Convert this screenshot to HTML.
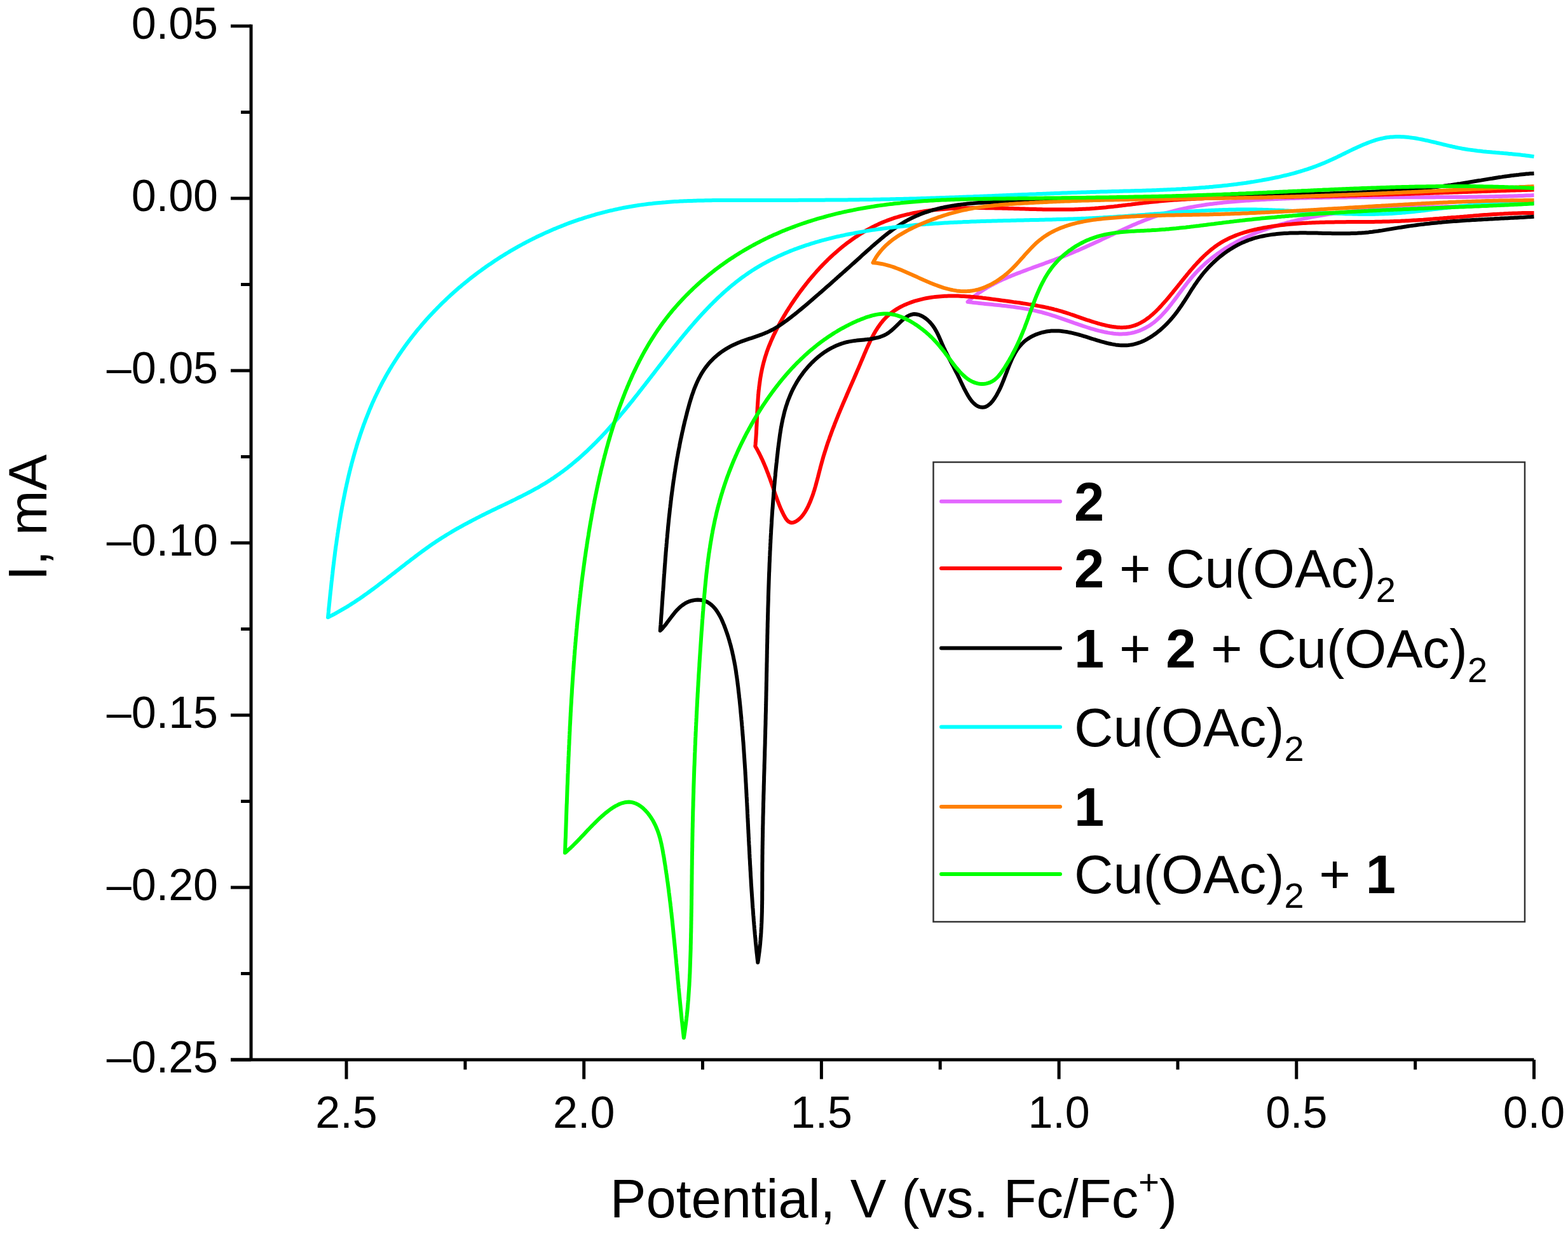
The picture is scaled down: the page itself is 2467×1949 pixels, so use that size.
<!DOCTYPE html>
<html><head><meta charset="utf-8"><style>html,body{margin:0;padding:0;background:#fff;}svg{display:block;}</style></head>
<body><svg width="2467" height="1949" viewBox="0 0 2467 1949">
<rect width="100%" height="100%" fill="#fff"/>
<path d="M2413.5,307.1L2410.5,307.2 2407.5,307.4 2404.5,307.5 2401.5,307.6 2398.5,307.7 2395.5,307.9 2392.5,308.0 2389.5,308.1 2386.4,308.2 2383.4,308.3 2380.4,308.4 2377.4,308.5 2374.4,308.6 2371.4,308.7 2368.4,308.8 2365.4,308.8 2362.4,308.9 2359.4,309.0 2356.4,309.1 2353.4,309.1 2350.3,309.2 2347.3,309.3 2344.3,309.3 2341.3,309.4 2338.3,309.4 2335.3,309.5 2332.3,309.5 2329.3,309.6 2326.3,309.6 2323.2,309.7 2320.2,309.7 2317.2,309.8 2314.2,309.8 2311.2,309.8 2308.2,309.9 2305.2,309.9 2302.2,309.9 2299.1,309.9 2296.1,310.0 2293.1,310.0 2290.1,310.0 2287.1,310.0 2284.1,310.1 2281.1,310.1 2278.1,310.1 2275.0,310.1 2272.0,310.1 2269.0,310.1 2266.0,310.1 2263.0,310.1 2260.0,310.1 2257.0,310.2 2253.9,310.2 2250.9,310.2 2247.9,310.2 2244.9,310.2 2241.9,310.2 2238.9,310.2 2235.8,310.2 2232.8,310.2 2229.8,310.2 2226.8,310.2 2223.8,310.2 2220.8,310.2 2217.7,310.2 2214.7,310.2 2211.7,310.2 2208.7,310.2 2205.7,310.2 2202.7,310.2 2199.6,310.2 2196.6,310.2 2193.6,310.2 2190.6,310.2 2187.6,310.2 2184.6,310.2 2181.5,310.2 2178.5,310.2 2175.5,310.2 2172.5,310.2 2169.5,310.2 2166.5,310.2 2163.4,310.2 2160.4,310.2 2157.4,310.2 2154.4,310.2 2151.4,310.2 2148.4,310.2 2145.3,310.2 2142.3,310.2 2139.3,310.2 2136.3,310.3 2133.3,310.3 2130.2,310.3 2127.2,310.3 2124.2,310.3 2121.2,310.3 2118.2,310.4 2115.2,310.4 2112.1,310.4 2109.1,310.5 2106.1,310.5 2103.1,310.5 2100.1,310.6 2097.1,310.6 2094.0,310.6 2091.0,310.7 2088.0,310.7 2085.0,310.8 2082.0,310.8 2079.0,310.9 2075.9,310.9 2072.9,311.0 2069.9,311.1 2066.9,311.1 2063.9,311.2 2060.9,311.3 2057.8,311.3 2054.8,311.4 2051.8,311.5 2048.8,311.6 2045.8,311.6 2042.8,311.7 2039.7,311.8 2036.7,311.9 2033.7,312.0 2030.7,312.1 2027.7,312.2 2024.7,312.3 2021.7,312.4 2018.6,312.6 2015.6,312.7 2012.6,312.8 2009.6,312.9 2006.6,313.1 2003.6,313.2 2000.6,313.3 1997.5,313.5 1994.5,313.6 1991.5,313.8 1988.5,314.0 1985.5,314.1 1982.5,314.3 1979.5,314.5 1976.4,314.6 1973.4,314.8 1970.4,315.0 1967.4,315.2 1964.4,315.4 1961.4,315.6 1958.4,315.8 1955.4,316.0 1952.4,316.2 1949.3,316.5 1946.3,316.7 1943.3,316.9 1940.3,317.2 1937.3,317.5 1934.3,317.7 1931.3,318.0 1928.3,318.3 1925.3,318.6 1922.3,318.9 1919.4,319.2 1916.4,319.6 1913.4,319.9 1910.4,320.3 1907.4,320.7 1904.4,321.0 1901.5,321.4 1898.5,321.8 1895.5,322.3 1892.6,322.7 1889.6,323.2 1886.7,323.6 1883.7,324.1 1880.8,324.6 1877.8,325.2 1874.9,325.7 1871.9,326.2 1869.0,326.8 1866.1,327.4 1863.2,328.0 1860.2,328.6 1857.3,329.3 1854.4,329.9 1851.5,330.6 1848.6,331.3 1845.7,332.1 1842.9,332.8 1840.0,333.6 1837.1,334.4 1834.2,335.2 1831.4,336.0 1828.5,336.9 1825.7,337.8 1822.8,338.7 1820.0,339.6 1817.2,340.5 1814.4,341.5 1811.5,342.5 1808.7,343.6 1805.9,344.6 1803.1,345.7 1800.3,346.8 1797.6,347.9 1794.8,349.0 1792.0,350.1 1789.2,351.3 1786.5,352.5 1783.7,353.6 1780.9,354.8 1778.2,356.1 1775.4,357.3 1772.7,358.5 1769.9,359.8 1767.2,361.0 1764.5,362.3 1761.7,363.5 1759.0,364.8 1756.2,366.1 1753.5,367.4 1750.8,368.7 1748.0,369.9 1745.3,371.2 1742.6,372.5 1739.8,373.8 1737.1,375.1 1734.3,376.4 1731.6,377.7 1728.9,379.0 1726.1,380.3 1723.4,381.5 1720.6,382.8 1717.9,384.1 1715.1,385.3 1712.4,386.6 1709.6,387.8 1706.9,389.1 1704.1,390.3 1701.3,391.5 1698.5,392.7 1695.8,393.9 1693.0,395.1 1690.2,396.3 1687.4,397.5 1684.6,398.6 1681.8,399.8 1679.0,400.9 1676.2,402.0 1673.4,403.1 1670.6,404.2 1667.8,405.3 1664.9,406.4 1662.1,407.4 1659.3,408.5 1656.5,409.5 1653.6,410.6 1650.8,411.6 1648.0,412.7 1645.1,413.7 1642.3,414.8 1639.5,415.8 1636.6,416.8 1633.8,417.9 1631.0,418.9 1628.1,419.9 1625.3,420.9 1622.5,422.0 1619.7,423.0 1616.8,424.0 1614.0,425.1 1611.2,426.1 1608.4,427.2 1605.6,428.3 1602.8,429.3 1600.0,430.4 1597.2,431.5 1594.4,432.6 1591.6,433.7 1588.9,434.9 1586.1,436.0 1583.4,437.2 1580.7,438.4 1577.9,439.6 1575.2,440.9 1572.5,442.1 1569.9,443.4 1567.2,444.8 1564.5,446.1 1561.9,447.5 1559.3,448.9 1556.7,450.4 1554.1,451.8 1551.5,453.4 1549.0,454.9 1546.5,456.5 1544.0,458.2 1541.5,459.8 1539.0,461.5 1536.6,463.3 1534.2,465.1 1531.8,467.0 1529.4,468.9 1527.1,470.8 1524.8,472.8 1522.5,474.9L1525.5,475.3 1528.5,475.6 1531.5,476.0 1534.5,476.3 1537.5,476.6 1540.5,476.9 1543.5,477.2 1546.5,477.6 1549.5,477.9 1552.5,478.2 1555.5,478.5 1558.5,478.8 1561.5,479.1 1564.5,479.4 1567.5,479.7 1570.5,480.0 1573.5,480.3 1576.5,480.7 1579.6,481.0 1582.6,481.3 1585.6,481.7 1588.5,482.1 1591.5,482.4 1594.5,482.8 1597.5,483.3 1600.5,483.7 1603.5,484.1 1606.5,484.6 1609.4,485.1 1612.4,485.6 1615.3,486.1 1618.3,486.6 1621.3,487.2 1624.2,487.8 1627.1,488.4 1630.1,489.1 1633.0,489.8 1635.9,490.5 1638.8,491.2 1641.7,492.0 1644.6,492.8 1647.5,493.6 1650.4,494.5 1653.3,495.4 1656.1,496.3 1659.0,497.2 1661.9,498.2 1664.7,499.1 1667.6,500.1 1670.4,501.1 1673.3,502.1 1676.2,503.1 1679.0,504.1 1681.9,505.1 1684.7,506.1 1687.6,507.1 1690.5,508.2 1693.3,509.2 1696.2,510.2 1699.1,511.1 1702.0,512.1 1704.9,513.1 1707.8,514.0 1710.7,515.0 1713.6,515.9 1716.5,516.8 1719.4,517.6 1722.4,518.5 1725.3,519.3 1728.3,520.1 1731.3,520.8 1734.3,521.5 1737.3,522.2 1740.3,522.8 1743.3,523.4 1746.3,523.9 1749.3,524.3 1752.3,524.7 1755.3,525.0 1758.3,525.2 1761.3,525.4 1764.2,525.4 1767.2,525.3 1770.1,525.2 1773.1,524.9 1776.0,524.6 1778.9,524.1 1781.7,523.5 1784.5,522.8 1787.4,522.0 1790.1,521.1 1792.9,520.1 1795.6,519.0 1798.2,517.8 1800.8,516.5 1803.4,515.1 1805.9,513.7 1808.4,512.2 1810.9,510.5 1813.2,508.8 1815.6,507.1 1817.9,505.2 1820.1,503.3 1822.3,501.3 1824.5,499.3 1826.6,497.2 1828.7,495.0 1830.7,492.8 1832.8,490.6 1834.8,488.3 1836.7,486.0 1838.7,483.6 1840.6,481.2 1842.5,478.8 1844.4,476.3 1846.3,473.9 1848.2,471.4 1850.1,468.9 1852.0,466.4 1853.8,463.8 1855.7,461.3 1857.6,458.8 1859.4,456.3 1861.3,453.8 1863.2,451.2 1865.1,448.8 1867.0,446.3 1868.9,443.8 1870.9,441.4 1872.8,439.0 1874.8,436.6 1876.8,434.3 1878.9,432.0 1880.9,429.7 1883.0,427.5 1885.1,425.3 1887.3,423.1 1889.4,421.0 1891.6,418.9 1893.8,416.9 1896.1,414.8 1898.3,412.8 1900.6,410.9 1902.9,409.0 1905.2,407.1 1907.6,405.2 1909.9,403.4 1912.3,401.6 1914.7,399.8 1917.1,398.1 1919.6,396.4 1922.0,394.7 1924.5,393.0 1927.0,391.4 1929.5,389.8 1932.1,388.3 1934.6,386.7 1937.2,385.2 1939.8,383.8 1942.4,382.3 1945.0,380.9 1947.6,379.5 1950.3,378.1 1953.0,376.8 1955.6,375.5 1958.3,374.2 1961.0,372.9 1963.7,371.7 1966.5,370.5 1969.2,369.3 1972.0,368.1 1974.7,366.9 1977.5,365.8 1980.3,364.7 1983.1,363.7 1985.9,362.6 1988.8,361.6 1991.6,360.6 1994.4,359.6 1997.3,358.6 2000.1,357.7 2003.0,356.7 2005.9,355.8 2008.8,354.9 2011.6,354.1 2014.5,353.2 2017.4,352.4 2020.4,351.6 2023.3,350.8 2026.2,350.0 2029.1,349.3 2032.0,348.5 2035.0,347.8 2037.9,347.1 2040.9,346.4 2043.8,345.7 2046.7,345.1 2049.7,344.4 2052.6,343.8 2055.6,343.2 2058.5,342.6 2061.5,342.0 2064.5,341.4 2067.4,340.9 2070.4,340.3 2073.4,339.8 2076.3,339.3 2079.3,338.8 2082.3,338.3 2085.2,337.8 2088.2,337.4 2091.2,336.9 2094.2,336.5 2097.2,336.1 2100.1,335.7 2103.1,335.3 2106.1,334.9 2109.1,334.5 2112.1,334.1 2115.1,333.8 2118.1,333.4 2121.1,333.1 2124.1,332.8 2127.1,332.5 2130.1,332.1 2133.1,331.9 2136.1,331.6 2139.1,331.3 2142.1,331.0 2145.1,330.8 2148.1,330.5 2151.1,330.3 2154.1,330.0 2157.1,329.8 2160.2,329.6 2163.2,329.4 2166.2,329.2 2169.2,329.0 2172.2,328.8 2175.2,328.6 2178.2,328.4 2181.3,328.3 2184.3,328.1 2187.3,328.0 2190.3,327.8 2193.4,327.7 2196.4,327.5 2199.4,327.4 2202.4,327.3 2205.5,327.1 2208.5,327.0 2211.5,326.9 2214.5,326.8 2217.6,326.7 2220.6,326.6 2223.6,326.5 2226.6,326.4 2229.7,326.3 2232.7,326.2 2235.7,326.1 2238.8,326.0 2241.8,326.0 2244.8,325.9 2247.8,325.8 2250.9,325.7 2253.9,325.6 2256.9,325.6 2260.0,325.5 2263.0,325.4 2266.0,325.4 2269.0,325.3 2272.1,325.2 2275.1,325.1 2278.1,325.1 2281.2,325.0 2284.2,324.9 2287.2,324.9 2290.2,324.8 2293.3,324.7 2296.3,324.6 2299.3,324.6 2302.3,324.5 2305.4,324.4 2308.4,324.3 2311.4,324.2 2314.4,324.1 2317.4,324.1 2320.5,324.0 2323.5,323.9 2326.5,323.8 2329.5,323.7 2332.5,323.6 2335.5,323.4 2338.6,323.3 2341.6,323.2 2344.6,323.1 2347.6,323.0 2350.6,322.8 2353.6,322.7 2356.6,322.5 2359.6,322.4 2362.6,322.2 2365.6,322.1 2368.6,321.9 2371.6,321.7 2374.6,321.5 2377.6,321.4 2380.6,321.2 2383.6,321.0 2386.6,320.8 2389.6,320.5 2392.6,320.3 2395.6,320.1 2398.6,319.8 2401.6,319.6 2404.6,319.3 2407.5,319.1 2410.5,318.8 2413.5,318.5" fill="none" stroke="#E366FF" stroke-width="6" stroke-linejoin="round"/>
<path d="M2413.5,298.5L2410.5,298.6 2407.5,298.7 2404.5,298.8 2401.5,298.9 2398.5,299.0 2395.5,299.1 2392.4,299.2 2389.4,299.2 2386.4,299.3 2383.4,299.4 2380.4,299.5 2377.4,299.6 2374.4,299.7 2371.4,299.8 2368.4,299.9 2365.4,300.0 2362.4,300.1 2359.4,300.2 2356.3,300.3 2353.3,300.4 2350.3,300.5 2347.3,300.6 2344.3,300.7 2341.3,300.8 2338.3,300.9 2335.3,301.0 2332.3,301.1 2329.3,301.2 2326.3,301.3 2323.3,301.4 2320.3,301.5 2317.2,301.6 2314.2,301.7 2311.2,301.8 2308.2,301.9 2305.2,302.0 2302.2,302.1 2299.2,302.2 2296.2,302.3 2293.2,302.4 2290.2,302.5 2287.2,302.6 2284.2,302.7 2281.2,302.8 2278.1,302.9 2275.1,303.0 2272.1,303.1 2269.1,303.2 2266.1,303.3 2263.1,303.4 2260.1,303.5 2257.1,303.6 2254.1,303.7 2251.1,303.8 2248.1,303.9 2245.1,304.0 2242.1,304.1 2239.0,304.2 2236.0,304.3 2233.0,304.4 2230.0,304.5 2227.0,304.6 2224.0,304.7 2221.0,304.8 2218.0,304.9 2215.0,305.0 2212.0,305.1 2209.0,305.2 2206.0,305.3 2203.0,305.3 2199.9,305.4 2196.9,305.5 2193.9,305.6 2190.9,305.7 2187.9,305.8 2184.9,305.9 2181.9,306.0 2178.9,306.1 2175.9,306.2 2172.9,306.3 2169.9,306.4 2166.9,306.4 2163.9,306.5 2160.8,306.6 2157.8,306.7 2154.8,306.8 2151.8,306.9 2148.8,307.0 2145.8,307.1 2142.8,307.1 2139.8,307.2 2136.8,307.3 2133.8,307.4 2130.8,307.5 2127.8,307.6 2124.7,307.6 2121.7,307.7 2118.7,307.8 2115.7,307.9 2112.7,307.9 2109.7,308.0 2106.7,308.1 2103.7,308.2 2100.7,308.3 2097.7,308.3 2094.7,308.4 2091.7,308.5 2088.6,308.5 2085.6,308.6 2082.6,308.7 2079.6,308.7 2076.6,308.8 2073.6,308.9 2070.6,308.9 2067.6,309.0 2064.6,309.1 2061.6,309.1 2058.6,309.2 2055.5,309.3 2052.5,309.3 2049.5,309.4 2046.5,309.4 2043.5,309.5 2040.5,309.6 2037.5,309.6 2034.5,309.7 2031.5,309.7 2028.5,309.8 2025.5,309.8 2022.4,309.9 2019.4,309.9 2016.4,310.0 2013.4,310.0 2010.4,310.1 2007.4,310.1 2004.4,310.1 2001.4,310.2 1998.4,310.2 1995.4,310.3 1992.3,310.3 1989.3,310.3 1986.3,310.4 1983.3,310.4 1980.3,310.5 1977.3,310.5 1974.3,310.5 1971.3,310.6 1968.3,310.6 1965.3,310.6 1962.3,310.7 1959.2,310.7 1956.2,310.8 1953.2,310.8 1950.2,310.9 1947.2,310.9 1944.2,310.9 1941.2,311.0 1938.2,311.1 1935.2,311.1 1932.2,311.2 1929.1,311.2 1926.1,311.3 1923.1,311.4 1920.1,311.4 1917.1,311.5 1914.1,311.6 1911.1,311.7 1908.1,311.7 1905.1,311.8 1902.1,311.9 1899.1,312.0 1896.1,312.1 1893.1,312.2 1890.0,312.4 1887.0,312.5 1884.0,312.6 1881.0,312.7 1878.0,312.9 1875.0,313.0 1872.0,313.2 1869.0,313.3 1866.0,313.5 1863.0,313.7 1860.0,313.8 1857.0,314.0 1854.0,314.2 1851.0,314.4 1848.0,314.6 1845.0,314.8 1842.0,315.1 1839.0,315.3 1836.0,315.5 1833.0,315.8 1830.0,316.0 1827.0,316.3 1824.0,316.6 1821.0,316.9 1818.0,317.2 1815.0,317.5 1812.0,317.8 1809.0,318.1 1806.0,318.4 1803.0,318.8 1800.0,319.1 1797.0,319.5 1794.0,319.8 1791.0,320.2 1788.0,320.6 1785.0,320.9 1782.0,321.3 1779.0,321.7 1776.0,322.0 1773.0,322.4 1770.0,322.8 1767.0,323.1 1764.0,323.5 1761.0,323.8 1758.0,324.2 1755.0,324.5 1752.0,324.9 1749.0,325.2 1746.0,325.5 1743.1,325.8 1740.1,326.2 1737.1,326.4 1734.1,326.7 1731.1,327.0 1728.1,327.3 1725.1,327.5 1722.1,327.8 1719.1,328.0 1716.1,328.2 1713.1,328.4 1710.1,328.5 1707.1,328.7 1704.1,328.8 1701.2,329.0 1698.2,329.1 1695.2,329.2 1692.2,329.3 1689.2,329.4 1686.2,329.4 1683.2,329.5 1680.2,329.5 1677.2,329.6 1674.2,329.6 1671.2,329.6 1668.2,329.6 1665.2,329.6 1662.2,329.6 1659.2,329.6 1656.3,329.6 1653.3,329.6 1650.3,329.5 1647.3,329.5 1644.3,329.4 1641.3,329.4 1638.3,329.3 1635.3,329.3 1632.3,329.2 1629.3,329.1 1626.3,329.0 1623.3,329.0 1620.3,328.9 1617.3,328.8 1614.3,328.7 1611.3,328.6 1608.3,328.5 1605.3,328.4 1602.3,328.3 1599.3,328.2 1596.3,328.2 1593.3,328.1 1590.3,328.0 1587.2,327.9 1584.2,327.8 1581.2,327.7 1578.2,327.7 1575.2,327.6 1572.2,327.5 1569.2,327.4 1566.2,327.4 1563.2,327.3 1560.2,327.3 1557.1,327.2 1554.1,327.2 1551.1,327.2 1548.1,327.1 1545.1,327.1 1542.0,327.1 1539.0,327.1 1536.0,327.1 1533.0,327.1 1530.0,327.1 1526.9,327.2 1523.9,327.2 1520.9,327.3 1517.9,327.3 1514.8,327.4 1511.8,327.5 1508.8,327.6 1505.7,327.7 1502.7,327.8 1499.7,328.0 1496.6,328.1 1493.6,328.3 1490.6,328.5 1487.5,328.7 1484.5,328.9 1481.5,329.2 1478.5,329.4 1475.4,329.7 1472.4,330.0 1469.4,330.3 1466.4,330.6 1463.4,331.0 1460.4,331.4 1457.4,331.8 1454.4,332.2 1451.4,332.7 1448.5,333.1 1445.5,333.6 1442.5,334.2 1439.6,334.7 1436.7,335.3 1433.7,335.9 1430.8,336.6 1427.9,337.2 1425.0,337.9 1422.1,338.6 1419.2,339.4 1416.3,340.2 1413.5,341.0 1410.6,341.9 1407.8,342.7 1405.0,343.7 1402.2,344.6 1399.4,345.6 1396.6,346.6 1393.8,347.7 1391.1,348.8 1388.4,349.9 1385.6,351.1 1382.9,352.3 1380.2,353.6 1377.6,354.8 1374.9,356.1 1372.3,357.5 1369.6,358.9 1367.0,360.3 1364.4,361.7 1361.8,363.2 1359.3,364.7 1356.7,366.2 1354.2,367.7 1351.7,369.3 1349.2,371.0 1346.7,372.6 1344.2,374.3 1341.7,376.0 1339.3,377.7 1336.9,379.5 1334.4,381.2 1332.0,383.0 1329.7,384.9 1327.3,386.7 1324.9,388.6 1322.6,390.5 1320.3,392.5 1318.0,394.4 1315.7,396.4 1313.4,398.4 1311.2,400.4 1308.9,402.5 1306.7,404.5 1304.5,406.6 1302.3,408.7 1300.2,410.9 1298.0,413.0 1295.9,415.2 1293.7,417.4 1291.6,419.6 1289.5,421.8 1287.5,424.1 1285.4,426.3 1283.4,428.6 1281.4,430.9 1279.4,433.2 1277.4,435.5 1275.4,437.9 1273.4,440.2 1271.5,442.6 1269.6,445.0 1267.7,447.4 1265.8,449.8 1263.9,452.2 1262.1,454.6 1260.2,457.1 1258.4,459.5 1256.6,462.0 1254.8,464.5 1253.1,467.0 1251.3,469.5 1249.6,472.0 1247.9,474.5 1246.2,477.0 1244.5,479.5 1242.9,482.1 1241.2,484.6 1239.6,487.2 1238.0,489.7 1236.4,492.3 1234.9,494.9 1233.3,497.4 1231.8,500.0 1230.3,502.6 1228.8,505.2 1227.3,507.8 1225.9,510.4 1224.5,513.1 1223.1,515.7 1221.7,518.3 1220.4,521.0 1219.1,523.6 1217.8,526.3 1216.5,529.0 1215.3,531.7 1214.1,534.4 1212.9,537.1 1211.8,539.8 1210.7,542.5 1209.6,545.2 1208.5,548.0 1207.5,550.8 1206.5,553.5 1205.6,556.3 1204.7,559.1 1203.8,561.9 1203.0,564.7 1202.2,567.6 1201.4,570.4 1200.7,573.3 1200.0,576.1 1199.3,579.0 1198.7,581.9 1198.1,584.8 1197.5,587.7 1197.0,590.7 1196.5,593.6 1196.0,596.5 1195.6,599.5 1195.2,602.5 1194.8,605.4 1194.4,608.4 1194.1,611.4 1193.7,614.4 1193.4,617.4 1193.2,620.4 1192.9,623.4 1192.7,626.4 1192.5,629.5 1192.3,632.5 1192.1,635.5 1191.9,638.6 1191.7,641.6 1191.6,644.6 1191.4,647.7 1191.3,650.7 1191.1,653.8 1191.0,656.8 1190.9,659.9 1190.8,662.9 1190.6,665.9 1190.5,669.0 1190.3,672.0 1190.2,675.0 1190.0,678.0 1189.9,681.1 1189.7,684.1 1189.5,687.1 1189.3,690.1 1189.1,693.1 1188.8,696.1 1188.6,699.0 1188.3,702.0L1189.8,704.6 1191.3,707.2 1192.7,709.8 1194.1,712.5 1195.5,715.2 1196.8,717.9 1198.1,720.6 1199.4,723.3 1200.6,726.0 1201.8,728.8 1203.0,731.6 1204.2,734.4 1205.3,737.2 1206.4,740.0 1207.5,742.8 1208.6,745.6 1209.6,748.4 1210.7,751.3 1211.7,754.1 1212.7,756.9 1213.7,759.7 1214.7,762.6 1215.7,765.4 1216.6,768.2 1217.6,771.0 1218.6,773.9 1219.5,776.7 1220.5,779.5 1221.5,782.3 1222.5,785.1 1223.5,787.9 1224.6,790.7 1225.7,793.5 1226.8,796.3 1228.0,799.2 1229.3,802.0 1230.6,804.9 1232.0,807.8 1233.5,810.8 1235.1,813.6 1236.8,816.3 1238.7,818.7 1240.7,820.5 1243.0,821.7 1245.3,822.2 1247.8,822.0 1250.4,821.1 1252.9,819.8 1255.3,818.2 1257.5,816.4 1259.6,814.4 1261.6,812.2 1263.5,809.9 1265.2,807.4 1266.9,804.9 1268.4,802.2 1269.9,799.5 1271.3,796.8 1272.6,793.9 1273.9,791.1 1275.1,788.3 1276.2,785.4 1277.3,782.5 1278.4,779.6 1279.4,776.7 1280.3,773.8 1281.3,770.9 1282.1,768.0 1283.0,765.0 1283.8,762.1 1284.6,759.1 1285.4,756.2 1286.2,753.2 1287.0,750.3 1287.7,747.3 1288.5,744.4 1289.2,741.5 1290.0,738.5 1290.7,735.6 1291.5,732.7 1292.3,729.8 1293.1,726.9 1293.9,724.0 1294.7,721.1 1295.5,718.2 1296.4,715.3 1297.3,712.5 1298.2,709.6 1299.1,706.8 1300.0,704.0 1300.9,701.1 1301.8,698.3 1302.8,695.5 1303.8,692.7 1304.8,689.9 1305.7,687.1 1306.8,684.3 1307.8,681.5 1308.8,678.8 1309.8,676.0 1310.9,673.2 1312.0,670.5 1313.0,667.7 1314.1,664.9 1315.2,662.2 1316.3,659.4 1317.4,656.7 1318.5,653.9 1319.6,651.2 1320.8,648.4 1321.9,645.7 1323.1,642.9 1324.2,640.2 1325.4,637.5 1326.5,634.7 1327.7,632.0 1328.9,629.2 1330.1,626.5 1331.3,623.7 1332.4,621.0 1333.6,618.2 1334.8,615.5 1336.0,612.7 1337.2,609.9 1338.4,607.2 1339.6,604.4 1340.9,601.6 1342.1,598.8 1343.3,596.1 1344.5,593.3 1345.7,590.5 1346.9,587.7 1348.1,584.9 1349.3,582.1 1350.6,579.2 1351.8,576.4 1353.0,573.6 1354.2,570.7 1355.4,567.9 1356.6,565.0 1357.8,562.2 1359.0,559.3 1360.2,556.4 1361.5,553.6 1362.7,550.7 1363.9,547.9 1365.2,545.0 1366.5,542.2 1367.8,539.4 1369.1,536.6 1370.5,533.9 1371.8,531.2 1373.3,528.5 1374.7,525.8 1376.2,523.2 1377.7,520.6 1379.3,518.1 1380.9,515.6 1382.6,513.2 1384.3,510.8 1386.0,508.4 1387.9,506.2 1389.7,503.9 1391.7,501.8 1393.7,499.7 1395.7,497.7 1397.9,495.8 1400.1,493.9 1402.3,492.1 1404.6,490.4 1407.0,488.7 1409.5,487.1 1411.9,485.6 1414.5,484.1 1417.0,482.7 1419.7,481.4 1422.3,480.1 1425.0,478.9 1427.8,477.7 1430.5,476.7 1433.3,475.6 1436.2,474.6 1439.0,473.7 1441.9,472.9 1444.8,472.1 1447.7,471.3 1450.7,470.6 1453.6,469.9 1456.6,469.3 1459.5,468.8 1462.5,468.3 1465.4,467.8 1468.4,467.4 1471.4,467.0 1474.4,466.7 1477.4,466.4 1480.4,466.2 1483.3,466.0 1486.3,465.8 1489.3,465.7 1492.3,465.6 1495.3,465.5 1498.3,465.5 1501.4,465.5 1504.4,465.6 1507.4,465.6 1510.4,465.7 1513.4,465.9 1516.4,466.0 1519.4,466.2 1522.4,466.4 1525.5,466.6 1528.5,466.9 1531.5,467.1 1534.5,467.4 1537.5,467.7 1540.6,468.0 1543.6,468.3 1546.6,468.7 1549.6,469.0 1552.6,469.4 1555.7,469.8 1558.7,470.2 1561.7,470.6 1564.7,471.0 1567.7,471.4 1570.7,471.8 1573.7,472.2 1576.7,472.6 1579.7,473.0 1582.7,473.4 1585.7,473.8 1588.7,474.2 1591.7,474.6 1594.7,475.1 1597.7,475.5 1600.7,475.9 1603.7,476.3 1606.7,476.7 1609.6,477.2 1612.6,477.6 1615.6,478.1 1618.5,478.6 1621.5,479.0 1624.4,479.5 1627.4,480.0 1630.3,480.5 1633.3,481.1 1636.2,481.6 1639.1,482.2 1642.0,482.8 1644.9,483.4 1647.8,484.0 1650.7,484.7 1653.6,485.3 1656.5,486.0 1659.3,486.8 1662.2,487.5 1665.0,488.3 1667.9,489.1 1670.7,489.9 1673.5,490.8 1676.3,491.7 1679.2,492.6 1682.0,493.5 1684.8,494.5 1687.6,495.4 1690.4,496.4 1693.2,497.4 1696.0,498.3 1698.9,499.3 1701.7,500.3 1704.6,501.3 1707.4,502.3 1710.3,503.3 1713.2,504.2 1716.1,505.2 1719.0,506.1 1722.0,507.0 1725.0,507.9 1728.0,508.8 1731.0,509.7 1734.1,510.5 1737.1,511.2 1740.2,512.0 1743.3,512.6 1746.4,513.3 1749.5,513.8 1752.6,514.2 1755.7,514.6 1758.7,514.9 1761.8,515.1 1764.8,515.2 1767.8,515.1 1770.7,514.9 1773.6,514.6 1776.4,514.2 1779.2,513.6 1781.9,512.9 1784.6,512.1 1787.3,511.1 1789.9,510.1 1792.4,508.9 1794.9,507.6 1797.4,506.2 1799.9,504.8 1802.3,503.2 1804.6,501.5 1807.0,499.8 1809.3,498.0 1811.5,496.1 1813.8,494.2 1816.0,492.1 1818.2,490.1 1820.3,488.0 1822.5,485.8 1824.6,483.6 1826.7,481.4 1828.7,479.1 1830.8,476.8 1832.8,474.5 1834.9,472.2 1836.9,469.8 1838.9,467.5 1840.8,465.1 1842.8,462.7 1844.8,460.3 1846.7,457.9 1848.7,455.5 1850.6,453.1 1852.6,450.7 1854.5,448.2 1856.5,445.8 1858.4,443.4 1860.3,441.0 1862.3,438.6 1864.2,436.2 1866.2,433.8 1868.1,431.4 1870.1,429.1 1872.0,426.7 1874.0,424.4 1876.0,422.1 1878.0,419.8 1880.0,417.5 1882.1,415.3 1884.1,413.1 1886.2,410.9 1888.2,408.7 1890.3,406.6 1892.5,404.5 1894.6,402.4 1896.8,400.4 1898.9,398.4 1901.2,396.4 1903.4,394.5 1905.7,392.6 1908.0,390.8 1910.3,389.0 1912.7,387.3 1915.1,385.6 1917.5,384.0 1919.9,382.4 1922.4,380.9 1925.0,379.4 1927.5,378.0 1930.2,376.7 1932.8,375.3 1935.5,374.1 1938.1,372.9 1940.9,371.7 1943.6,370.6 1946.4,369.5 1949.2,368.5 1952.0,367.5 1954.9,366.6 1957.7,365.7 1960.6,364.8 1963.5,364.0 1966.4,363.2 1969.4,362.4 1972.3,361.7 1975.3,361.0 1978.2,360.3 1981.2,359.7 1984.2,359.1 1987.2,358.5 1990.2,358.0 1993.2,357.5 1996.2,356.9 1999.2,356.5 2002.2,356.0 2005.3,355.6 2008.3,355.2 2011.3,354.8 2014.3,354.4 2017.3,354.0 2020.3,353.7 2023.3,353.3 2026.3,353.0 2029.3,352.7 2032.3,352.5 2035.3,352.2 2038.3,351.9 2041.3,351.7 2044.3,351.5 2047.3,351.3 2050.3,351.1 2053.3,350.9 2056.3,350.7 2059.3,350.6 2062.3,350.4 2065.3,350.3 2068.3,350.2 2071.3,350.0 2074.3,349.9 2077.3,349.8 2080.3,349.7 2083.3,349.7 2086.3,349.6 2089.3,349.5 2092.3,349.5 2095.3,349.4 2098.3,349.4 2101.3,349.3 2104.3,349.3 2107.3,349.2 2110.3,349.2 2113.3,349.2 2116.3,349.2 2119.3,349.1 2122.3,349.1 2125.3,349.1 2128.3,349.1 2131.3,349.1 2134.3,349.0 2137.3,349.0 2140.3,349.0 2143.3,349.0 2146.3,349.0 2149.3,349.0 2152.3,348.9 2155.3,348.9 2158.3,348.9 2161.3,348.9 2164.3,348.8 2167.3,348.8 2170.2,348.7 2173.2,348.7 2176.2,348.6 2179.2,348.6 2182.2,348.5 2185.2,348.4 2188.2,348.3 2191.2,348.2 2194.2,348.1 2197.2,348.0 2200.2,347.9 2203.2,347.8 2206.3,347.6 2209.3,347.5 2212.3,347.3 2215.3,347.2 2218.3,347.0 2221.3,346.8 2224.3,346.6 2227.3,346.5 2230.3,346.3 2233.3,346.1 2236.3,345.9 2239.3,345.7 2242.3,345.4 2245.3,345.2 2248.3,345.0 2251.3,344.8 2254.3,344.6 2257.3,344.3 2260.3,344.1 2263.3,343.9 2266.3,343.6 2269.4,343.4 2272.4,343.1 2275.4,342.9 2278.4,342.6 2281.4,342.4 2284.4,342.1 2287.4,341.9 2290.4,341.7 2293.4,341.4 2296.4,341.2 2299.4,340.9 2302.4,340.7 2305.4,340.4 2308.4,340.2 2311.4,339.9 2314.5,339.7 2317.5,339.5 2320.5,339.2 2323.5,339.0 2326.5,338.8 2329.5,338.5 2332.5,338.3 2335.5,338.1 2338.5,337.9 2341.5,337.7 2344.5,337.5 2347.5,337.3 2350.5,337.1 2353.5,336.9 2356.5,336.7 2359.5,336.6 2362.5,336.4 2365.5,336.3 2368.5,336.1 2371.5,336.0 2374.5,335.8 2377.5,335.7 2380.5,335.6 2383.5,335.5 2386.5,335.4 2389.5,335.3 2392.5,335.2 2395.5,335.1 2398.5,335.1 2401.5,335.0 2404.5,335.0 2407.5,334.9 2410.5,334.9 2413.5,334.9" fill="none" stroke="#FF0000" stroke-width="6" stroke-linejoin="round"/>
<path d="M2413.5,272.7L2410.5,272.9 2407.5,273.1 2404.4,273.4 2401.4,273.6 2398.4,273.9 2395.4,274.2 2392.4,274.5 2389.4,274.9 2386.4,275.2 2383.4,275.6 2380.4,275.9 2377.4,276.3 2374.5,276.7 2371.5,277.1 2368.5,277.5 2365.5,277.9 2362.6,278.4 2359.6,278.8 2356.6,279.3 2353.7,279.7 2350.7,280.2 2347.7,280.7 2344.8,281.1 2341.8,281.6 2338.9,282.1 2335.9,282.6 2332.9,283.1 2330.0,283.6 2327.0,284.0 2324.1,284.5 2321.1,285.0 2318.2,285.5 2315.2,286.0 2312.3,286.5 2309.3,287.0 2306.3,287.4 2303.4,287.9 2300.4,288.4 2297.5,288.9 2294.5,289.3 2291.6,289.8 2288.6,290.2 2285.6,290.6 2282.7,291.1 2279.7,291.5 2276.7,291.9 2273.7,292.3 2270.8,292.7 2267.8,293.0 2264.8,293.4 2261.8,293.8 2258.9,294.1 2255.9,294.4 2252.9,294.8 2249.9,295.1 2246.9,295.4 2243.9,295.7 2240.9,296.0 2237.9,296.3 2235.0,296.6 2232.0,296.9 2229.0,297.1 2226.0,297.4 2223.0,297.6 2220.0,297.9 2217.0,298.1 2214.0,298.4 2211.0,298.6 2208.0,298.8 2205.0,299.0 2202.0,299.2 2198.9,299.4 2195.9,299.6 2192.9,299.8 2189.9,300.0 2186.9,300.2 2183.9,300.4 2180.9,300.5 2177.9,300.7 2174.9,300.9 2171.9,301.0 2168.9,301.2 2165.8,301.3 2162.8,301.5 2159.8,301.6 2156.8,301.8 2153.8,301.9 2150.8,302.1 2147.8,302.2 2144.7,302.3 2141.7,302.4 2138.7,302.6 2135.7,302.7 2132.7,302.8 2129.7,302.9 2126.7,303.1 2123.7,303.2 2120.6,303.3 2117.6,303.4 2114.6,303.5 2111.6,303.6 2108.6,303.7 2105.6,303.8 2102.6,303.9 2099.6,304.0 2096.6,304.2 2093.6,304.3 2090.5,304.4 2087.5,304.5 2084.5,304.6 2081.5,304.7 2078.5,304.8 2075.5,304.9 2072.5,305.0 2069.5,305.1 2066.5,305.2 2063.5,305.2 2060.5,305.3 2057.5,305.4 2054.5,305.5 2051.5,305.6 2048.5,305.7 2045.5,305.8 2042.5,305.9 2039.5,306.0 2036.5,306.1 2033.5,306.1 2030.4,306.2 2027.4,306.3 2024.4,306.4 2021.4,306.5 2018.4,306.6 2015.4,306.7 2012.4,306.7 2009.4,306.8 2006.4,306.9 2003.4,307.0 2000.4,307.1 1997.4,307.1 1994.4,307.2 1991.4,307.3 1988.4,307.4 1985.4,307.4 1982.4,307.5 1979.4,307.6 1976.4,307.7 1973.4,307.7 1970.4,307.8 1967.4,307.9 1964.4,307.9 1961.4,308.0 1958.4,308.1 1955.4,308.2 1952.4,308.2 1949.4,308.3 1946.4,308.4 1943.4,308.4 1940.5,308.5 1937.5,308.6 1934.5,308.6 1931.5,308.7 1928.5,308.8 1925.5,308.8 1922.5,308.9 1919.5,309.0 1916.5,309.0 1913.5,309.1 1910.5,309.2 1907.5,309.2 1904.5,309.3 1901.5,309.3 1898.5,309.4 1895.5,309.5 1892.5,309.5 1889.5,309.6 1886.5,309.7 1883.5,309.7 1880.5,309.8 1877.5,309.8 1874.5,309.9 1871.5,310.0 1868.5,310.0 1865.5,310.1 1862.5,310.2 1859.5,310.2 1856.5,310.3 1853.5,310.3 1850.5,310.4 1847.5,310.5 1844.5,310.5 1841.5,310.6 1838.5,310.6 1835.5,310.7 1832.5,310.8 1829.5,310.8 1826.5,310.9 1823.5,311.0 1820.5,311.0 1817.5,311.1 1814.5,311.1 1811.5,311.2 1808.5,311.3 1805.5,311.3 1802.5,311.4 1799.5,311.4 1796.5,311.5 1793.5,311.6 1790.5,311.6 1787.5,311.7 1784.5,311.8 1781.5,311.8 1778.5,311.9 1775.5,311.9 1772.5,312.0 1769.5,312.1 1766.5,312.1 1763.5,312.2 1760.5,312.3 1757.5,312.3 1754.5,312.4 1751.4,312.5 1748.4,312.5 1745.4,312.6 1742.4,312.7 1739.4,312.7 1736.4,312.8 1733.4,312.9 1730.4,312.9 1727.4,313.0 1724.4,313.1 1721.4,313.2 1718.4,313.2 1715.4,313.3 1712.3,313.4 1709.3,313.4 1706.3,313.5 1703.3,313.6 1700.3,313.7 1697.3,313.7 1694.3,313.8 1691.3,313.9 1688.3,314.0 1685.2,314.0 1682.2,314.1 1679.2,314.2 1676.2,314.3 1673.2,314.4 1670.2,314.4 1667.2,314.5 1664.1,314.6 1661.1,314.7 1658.1,314.8 1655.1,314.9 1652.1,314.9 1649.1,315.0 1646.0,315.1 1643.0,315.2 1640.0,315.3 1637.0,315.4 1634.0,315.5 1630.9,315.6 1627.9,315.7 1624.9,315.7 1621.9,315.8 1618.8,315.9 1615.8,316.0 1612.8,316.1 1609.8,316.2 1606.7,316.3 1603.7,316.4 1600.7,316.5 1597.7,316.6 1594.6,316.7 1591.6,316.8 1588.6,316.9 1585.5,317.0 1582.5,317.1 1579.5,317.2 1576.5,317.4 1573.4,317.5 1570.4,317.6 1567.4,317.7 1564.3,317.8 1561.3,317.9 1558.3,318.1 1555.3,318.2 1552.2,318.4 1549.2,318.5 1546.2,318.7 1543.2,318.9 1540.2,319.1 1537.1,319.3 1534.1,319.5 1531.1,319.8 1528.1,320.0 1525.2,320.3 1522.2,320.6 1519.2,320.9 1516.2,321.2 1513.2,321.6 1510.3,321.9 1507.3,322.3 1504.4,322.7 1501.4,323.2 1498.5,323.6 1495.6,324.1 1492.7,324.6 1489.8,325.2 1486.9,325.7 1484.0,326.4 1481.1,327.0 1478.2,327.6 1475.4,328.3 1472.5,329.1 1469.7,329.8 1466.8,330.6 1464.0,331.5 1461.2,332.3 1458.4,333.3 1455.7,334.2 1452.9,335.2 1450.1,336.2 1447.4,337.3 1444.7,338.4 1442.0,339.6 1439.3,340.8 1436.6,342.0 1433.9,343.3 1431.3,344.6 1428.6,346.0 1426.0,347.5 1423.4,348.9 1420.8,350.5 1418.3,352.1 1415.7,353.7 1413.2,355.3 1410.6,357.0 1408.1,358.8 1405.6,360.5 1403.1,362.3 1400.7,364.2 1398.2,366.0 1395.8,367.9 1393.3,369.8 1390.9,371.8 1388.5,373.7 1386.1,375.7 1383.8,377.7 1381.4,379.7 1379.0,381.7 1376.7,383.7 1374.4,385.8 1372.0,387.8 1369.7,389.9 1367.4,391.9 1365.1,394.0 1362.8,396.0 1360.6,398.1 1358.3,400.1 1356.0,402.1 1353.8,404.2 1351.6,406.2 1349.3,408.2 1347.1,410.2 1344.9,412.2 1342.7,414.2 1340.5,416.1 1338.3,418.1 1336.1,420.1 1333.9,422.1 1331.7,424.0 1329.5,426.0 1327.3,427.9 1325.1,429.9 1322.9,431.8 1320.7,433.8 1318.5,435.7 1316.4,437.7 1314.2,439.6 1312.0,441.6 1309.8,443.5 1307.6,445.5 1305.4,447.4 1303.1,449.4 1300.9,451.3 1298.7,453.3 1296.5,455.2 1294.2,457.2 1292.0,459.2 1289.7,461.1 1287.5,463.1 1285.2,465.1 1282.9,467.1 1280.6,469.1 1278.3,471.1 1276.0,473.0 1273.7,475.0 1271.4,477.0 1269.1,479.0 1266.7,481.0 1264.4,482.9 1262.0,484.9 1259.6,486.9 1257.3,488.8 1254.9,490.7 1252.5,492.7 1250.1,494.6 1247.7,496.4 1245.3,498.3 1242.9,500.2 1240.5,502.0 1238.1,503.8 1235.6,505.6 1233.2,507.3 1230.7,509.1 1228.3,510.8 1225.8,512.4 1223.3,514.0 1220.7,515.5 1218.2,517.0 1215.6,518.5 1212.9,519.8 1210.3,521.1 1207.6,522.4 1204.8,523.6 1202.1,524.7 1199.3,525.8 1196.5,526.8 1193.7,527.9 1190.8,528.9 1188.0,529.8 1185.1,530.8 1182.3,531.8 1179.4,532.7 1176.6,533.7 1173.7,534.7 1170.9,535.7 1168.0,536.7 1165.2,537.7 1162.4,538.8 1159.7,540.0 1156.9,541.2 1154.2,542.4 1151.5,543.7 1148.8,545.1 1146.2,546.6 1143.6,548.1 1141.1,549.6 1138.6,551.2 1136.1,552.9 1133.7,554.7 1131.3,556.5 1129.0,558.3 1126.8,560.2 1124.5,562.2 1122.4,564.2 1120.3,566.3 1118.2,568.4 1116.2,570.6 1114.3,572.8 1112.5,575.1 1110.7,577.4 1108.9,579.8 1107.3,582.2 1105.7,584.6 1104.1,587.1 1102.6,589.7 1101.2,592.3 1099.8,594.9 1098.5,597.5 1097.2,600.2 1096.0,602.9 1094.8,605.7 1093.7,608.4 1092.5,611.2 1091.5,614.1 1090.5,616.9 1089.5,619.8 1088.5,622.6 1087.6,625.5 1086.7,628.4 1085.8,631.4 1084.9,634.3 1084.1,637.2 1083.3,640.2 1082.5,643.1 1081.7,646.1 1080.9,649.0 1080.2,652.0 1079.4,655.0 1078.7,657.9 1077.9,660.9 1077.2,663.8 1076.5,666.8 1075.8,669.8 1075.1,672.7 1074.5,675.7 1073.8,678.6 1073.1,681.6 1072.5,684.6 1071.9,687.5 1071.2,690.5 1070.6,693.4 1070.0,696.4 1069.4,699.4 1068.9,702.3 1068.3,705.3 1067.7,708.2 1067.2,711.2 1066.6,714.2 1066.1,717.1 1065.5,720.1 1065.0,723.1 1064.5,726.0 1064.0,729.0 1063.5,732.0 1063.0,734.9 1062.5,737.9 1062.1,740.9 1061.6,743.8 1061.2,746.8 1060.7,749.8 1060.3,752.7 1059.8,755.7 1059.4,758.7 1059.0,761.7 1058.6,764.6 1058.2,767.6 1057.8,770.6 1057.4,773.5 1057.0,776.5 1056.6,779.5 1056.2,782.5 1055.9,785.4 1055.5,788.4 1055.2,791.4 1054.8,794.4 1054.5,797.3 1054.1,800.3 1053.8,803.3 1053.5,806.3 1053.2,809.2 1052.8,812.2 1052.5,815.2 1052.2,818.2 1051.9,821.2 1051.6,824.1 1051.3,827.1 1051.0,830.1 1050.8,833.1 1050.5,836.1 1050.2,839.1 1049.9,842.0 1049.7,845.0 1049.4,848.0 1049.1,851.0 1048.9,854.0 1048.6,857.0 1048.4,860.0 1048.1,862.9 1047.9,865.9 1047.6,868.9 1047.4,871.9 1047.2,874.9 1046.9,877.9 1046.7,880.9 1046.5,883.9 1046.3,886.9 1046.0,889.9 1045.8,892.9 1045.6,895.8 1045.4,898.8 1045.2,901.8 1044.9,904.8 1044.7,907.8 1044.5,910.8 1044.3,913.8 1044.1,916.8 1043.9,919.8 1043.7,922.8 1043.5,925.8 1043.3,928.8 1043.0,931.8 1042.8,934.8 1042.6,937.8 1042.4,940.8 1042.2,943.8 1042.0,946.8 1041.8,949.9 1041.6,952.9 1041.4,955.9 1041.2,958.9 1041.0,961.9 1040.8,964.9 1040.5,967.9 1040.3,970.9 1040.1,973.9 1039.9,976.9 1039.7,979.9 1039.5,983.0 1039.2,986.0 1039.0,989.0 1038.8,992.0L1040.7,990.1 1042.6,988.1 1044.4,985.9 1046.3,983.7 1048.2,981.3 1050.0,978.8 1051.9,976.3 1053.8,973.7 1055.7,971.2 1057.7,968.6 1059.7,966.1 1061.7,963.6 1063.9,961.1 1066.0,958.8 1068.3,956.5 1070.6,954.4 1073.0,952.5 1075.5,950.7 1078.1,949.0 1080.8,947.6 1083.5,946.4 1086.4,945.4 1089.2,944.7 1092.1,944.1 1095.0,943.7 1097.9,943.6 1100.7,943.7 1103.5,944.0 1106.2,944.6 1108.8,945.3 1111.3,946.3 1113.7,947.5 1116.0,949.0 1118.2,950.6 1120.3,952.4 1122.3,954.3 1124.2,956.4 1126.0,958.7 1127.8,961.1 1129.4,963.6 1131.0,966.2 1132.5,968.9 1134.0,971.7 1135.4,974.5 1136.7,977.5 1137.9,980.4 1139.2,983.4 1140.3,986.4 1141.5,989.5 1142.5,992.5 1143.6,995.5 1144.6,998.5 1145.6,1001.5 1146.5,1004.5 1147.4,1007.5 1148.2,1010.5 1149.1,1013.5 1149.9,1016.5 1150.6,1019.4 1151.4,1022.4 1152.1,1025.4 1152.7,1028.4 1153.4,1031.3 1154.0,1034.3 1154.6,1037.3 1155.2,1040.2 1155.7,1043.2 1156.3,1046.1 1156.8,1049.1 1157.3,1052.1 1157.8,1055.0 1158.2,1058.0 1158.6,1060.9 1159.1,1063.9 1159.5,1066.8 1159.9,1069.8 1160.3,1072.7 1160.6,1075.7 1161.0,1078.6 1161.4,1081.6 1161.7,1084.5 1162.0,1087.5 1162.4,1090.5 1162.7,1093.4 1163.0,1096.4 1163.4,1099.3 1163.7,1102.3 1164.0,1105.3 1164.3,1108.2 1164.6,1111.2 1164.9,1114.2 1165.2,1117.2 1165.4,1120.1 1165.7,1123.1 1166.0,1126.1 1166.3,1129.1 1166.5,1132.0 1166.8,1135.0 1167.1,1138.0 1167.3,1141.0 1167.6,1144.0 1167.8,1147.0 1168.1,1150.0 1168.3,1153.0 1168.5,1155.9 1168.8,1158.9 1169.0,1161.9 1169.2,1164.9 1169.5,1167.9 1169.7,1170.9 1169.9,1173.9 1170.1,1176.9 1170.3,1179.9 1170.5,1182.9 1170.7,1185.9 1170.9,1188.9 1171.1,1191.9 1171.3,1194.9 1171.5,1197.9 1171.7,1200.9 1171.9,1204.0 1172.1,1207.0 1172.3,1210.0 1172.5,1213.0 1172.6,1216.0 1172.8,1219.0 1173.0,1222.0 1173.2,1225.0 1173.3,1228.0 1173.5,1231.1 1173.7,1234.1 1173.8,1237.1 1174.0,1240.1 1174.2,1243.1 1174.3,1246.1 1174.5,1249.2 1174.6,1252.2 1174.8,1255.2 1175.0,1258.2 1175.1,1261.2 1175.3,1264.3 1175.4,1267.3 1175.6,1270.3 1175.7,1273.3 1175.9,1276.3 1176.0,1279.4 1176.2,1282.4 1176.3,1285.4 1176.5,1288.4 1176.6,1291.5 1176.8,1294.5 1176.9,1297.5 1177.1,1300.5 1177.2,1303.6 1177.4,1306.6 1177.5,1309.6 1177.7,1312.6 1177.8,1315.6 1178.0,1318.7 1178.1,1321.7 1178.3,1324.7 1178.4,1327.7 1178.6,1330.8 1178.8,1333.8 1178.9,1336.8 1179.1,1339.8 1179.2,1342.9 1179.4,1345.9 1179.5,1348.9 1179.7,1351.9 1179.9,1354.9 1180.0,1358.0 1180.2,1361.0 1180.4,1364.0 1180.5,1367.0 1180.7,1370.0 1180.9,1373.1 1181.0,1376.1 1181.2,1379.1 1181.4,1382.1 1181.6,1385.1 1181.7,1388.1 1181.9,1391.2 1182.1,1394.2 1182.3,1397.2 1182.5,1400.2 1182.7,1403.2 1182.9,1406.2 1183.1,1409.2 1183.3,1412.3 1183.5,1415.3 1183.7,1418.3 1183.9,1421.3 1184.1,1424.3 1184.3,1427.3 1184.6,1430.3 1184.8,1433.3 1185.0,1436.3 1185.2,1439.3 1185.5,1442.3 1185.7,1445.3 1185.9,1448.3 1186.2,1451.3 1186.4,1454.3 1186.7,1457.3 1186.9,1460.3 1187.2,1463.3 1187.5,1466.3 1187.7,1469.3 1188.0,1472.3 1188.3,1475.3 1188.6,1478.2 1188.8,1481.2 1189.1,1484.2 1189.4,1487.2 1189.7,1490.2 1190.0,1493.2 1190.3,1496.2 1190.6,1499.1 1191.0,1502.1 1191.3,1505.1 1191.6,1508.1 1192.0,1511.0 1192.3,1514.0L1192.8,1511.0 1193.2,1508.1 1193.6,1505.1 1194.0,1502.2 1194.4,1499.2 1194.8,1496.2 1195.1,1493.2 1195.5,1490.3 1195.8,1487.3 1196.1,1484.3 1196.3,1481.3 1196.6,1478.3 1196.8,1475.3 1197.1,1472.4 1197.3,1469.4 1197.5,1466.4 1197.6,1463.4 1197.8,1460.4 1198.0,1457.4 1198.1,1454.4 1198.3,1451.4 1198.4,1448.4 1198.5,1445.4 1198.6,1442.4 1198.7,1439.4 1198.8,1436.4 1198.9,1433.4 1198.9,1430.4 1199.0,1427.3 1199.0,1424.3 1199.1,1421.3 1199.1,1418.3 1199.2,1415.3 1199.2,1412.3 1199.2,1409.3 1199.2,1406.3 1199.2,1403.3 1199.3,1400.2 1199.3,1397.2 1199.3,1394.2 1199.3,1391.2 1199.3,1388.2 1199.3,1385.2 1199.3,1382.1 1199.3,1379.1 1199.3,1376.1 1199.3,1373.1 1199.4,1370.1 1199.4,1367.1 1199.4,1364.1 1199.4,1361.1 1199.4,1358.0 1199.5,1355.0 1199.5,1352.0 1199.5,1349.0 1199.5,1346.0 1199.6,1343.0 1199.6,1340.0 1199.6,1337.0 1199.7,1334.0 1199.7,1331.0 1199.8,1327.9 1199.8,1324.9 1199.9,1321.9 1199.9,1318.9 1200.0,1315.9 1200.0,1312.9 1200.1,1309.9 1200.1,1306.9 1200.2,1303.9 1200.2,1300.9 1200.3,1297.9 1200.4,1294.9 1200.4,1291.9 1200.5,1288.9 1200.5,1285.9 1200.6,1282.9 1200.7,1279.9 1200.8,1276.9 1200.8,1273.9 1200.9,1270.8 1201.0,1267.8 1201.0,1264.8 1201.1,1261.8 1201.2,1258.8 1201.3,1255.8 1201.3,1252.8 1201.4,1249.8 1201.5,1246.8 1201.6,1243.8 1201.7,1240.8 1201.7,1237.8 1201.8,1234.8 1201.9,1231.8 1202.0,1228.8 1202.1,1225.8 1202.1,1222.8 1202.2,1219.8 1202.3,1216.8 1202.4,1213.8 1202.5,1210.8 1202.6,1207.8 1202.6,1204.8 1202.7,1201.8 1202.8,1198.8 1202.9,1195.8 1203.0,1192.8 1203.1,1189.8 1203.2,1186.8 1203.2,1183.8 1203.3,1180.8 1203.4,1177.8 1203.5,1174.8 1203.6,1171.8 1203.7,1168.8 1203.7,1165.8 1203.8,1162.8 1203.9,1159.8 1204.0,1156.8 1204.1,1153.8 1204.1,1150.8 1204.2,1147.7 1204.3,1144.7 1204.4,1141.7 1204.5,1138.7 1204.5,1135.7 1204.6,1132.7 1204.7,1129.7 1204.7,1126.7 1204.8,1123.7 1204.9,1120.7 1205.0,1117.7 1205.0,1114.7 1205.1,1111.7 1205.2,1108.7 1205.2,1105.7 1205.3,1102.7 1205.4,1099.7 1205.4,1096.6 1205.5,1093.6 1205.5,1090.6 1205.6,1087.6 1205.7,1084.6 1205.7,1081.6 1205.8,1078.6 1205.8,1075.6 1205.9,1072.6 1206.0,1069.6 1206.0,1066.6 1206.1,1063.5 1206.1,1060.5 1206.2,1057.5 1206.3,1054.5 1206.3,1051.5 1206.4,1048.5 1206.4,1045.5 1206.5,1042.5 1206.6,1039.5 1206.6,1036.5 1206.7,1033.4 1206.7,1030.4 1206.8,1027.4 1206.8,1024.4 1206.9,1021.4 1207.0,1018.4 1207.0,1015.4 1207.1,1012.4 1207.2,1009.4 1207.2,1006.3 1207.3,1003.3 1207.3,1000.3 1207.4,997.3 1207.5,994.3 1207.5,991.3 1207.6,988.3 1207.7,985.3 1207.7,982.3 1207.8,979.2 1207.9,976.2 1208.0,973.2 1208.0,970.2 1208.1,967.2 1208.2,964.2 1208.3,961.2 1208.3,958.2 1208.4,955.2 1208.5,952.1 1208.6,949.1 1208.7,946.1 1208.8,943.1 1208.8,940.1 1208.9,937.1 1209.0,934.1 1209.1,931.1 1209.2,928.1 1209.3,925.1 1209.4,922.1 1209.5,919.0 1209.6,916.0 1209.7,913.0 1209.8,910.0 1209.9,907.0 1210.0,904.0 1210.1,901.0 1210.3,898.0 1210.4,895.0 1210.5,892.0 1210.6,889.0 1210.7,886.0 1210.9,883.0 1211.0,879.9 1211.1,876.9 1211.3,873.9 1211.4,870.9 1211.5,867.9 1211.7,864.9 1211.8,861.9 1212.0,858.9 1212.1,855.9 1212.3,852.9 1212.4,849.9 1212.6,846.9 1212.7,843.9 1212.9,840.9 1213.1,837.9 1213.2,834.9 1213.4,831.9 1213.6,828.9 1213.8,825.9 1214.0,822.9 1214.1,819.9 1214.3,816.9 1214.5,813.9 1214.7,810.9 1214.9,807.9 1215.1,804.9 1215.3,801.9 1215.6,798.9 1215.8,795.9 1216.0,792.9 1216.2,789.9 1216.4,786.9 1216.7,783.9 1216.9,780.9 1217.1,777.9 1217.4,774.9 1217.6,771.9 1217.9,769.0 1218.1,766.0 1218.4,763.0 1218.7,760.0 1218.9,757.0 1219.2,754.0 1219.5,751.0 1219.8,748.0 1220.0,745.0 1220.3,742.0 1220.6,739.1 1220.9,736.1 1221.2,733.1 1221.5,730.1 1221.9,727.1 1222.2,724.1 1222.5,721.1 1222.8,718.2 1223.2,715.2 1223.5,712.2 1223.8,709.2 1224.2,706.2 1224.5,703.3 1224.9,700.3 1225.3,697.3 1225.7,694.3 1226.1,691.4 1226.5,688.4 1226.9,685.4 1227.3,682.5 1227.8,679.5 1228.3,676.6 1228.7,673.6 1229.3,670.7 1229.8,667.7 1230.4,664.8 1231.0,661.9 1231.6,659.0 1232.3,656.1 1233.0,653.2 1233.7,650.3 1234.4,647.4 1235.2,644.5 1236.1,641.7 1236.9,638.8 1237.9,636.0 1238.8,633.2 1239.8,630.3 1240.9,627.5 1242.0,624.8 1243.1,622.0 1244.3,619.2 1245.5,616.5 1246.8,613.7 1248.2,611.0 1249.6,608.3 1251.1,605.6 1252.6,603.0 1254.1,600.3 1255.8,597.7 1257.4,595.1 1259.2,592.6 1260.9,590.1 1262.8,587.6 1264.6,585.1 1266.5,582.7 1268.5,580.3 1270.5,577.9 1272.6,575.6 1274.7,573.4 1276.8,571.1 1279.0,569.0 1281.2,566.9 1283.5,564.8 1285.8,562.8 1288.1,560.8 1290.5,558.9 1292.9,557.1 1295.4,555.3 1297.9,553.6 1300.4,551.9 1302.9,550.4 1305.5,548.9 1308.2,547.4 1310.8,546.1 1313.5,544.8 1316.2,543.6 1319.0,542.4 1321.8,541.4 1324.6,540.4 1327.4,539.5 1330.2,538.7 1333.1,538.0 1336.0,537.4 1339.0,536.9 1341.9,536.4 1344.9,536.0 1347.8,535.6 1350.8,535.3 1353.8,535.0 1356.7,534.7 1359.7,534.4 1362.6,534.1 1365.5,533.7 1368.4,533.4 1371.3,533.0 1374.2,532.5 1377.0,531.9 1379.7,531.3 1382.5,530.6 1385.2,529.8 1387.8,528.8 1390.4,527.7 1393.0,526.5 1395.5,525.1 1398.0,523.4 1400.4,521.6 1402.8,519.7 1405.2,517.6 1407.5,515.4 1409.9,513.1 1412.2,510.8 1414.5,508.6 1416.8,506.3 1419.1,504.2 1421.5,502.2 1423.8,500.3 1426.2,498.6 1428.6,497.1 1431.0,495.9 1433.5,495.0 1436.0,494.3 1438.5,494.1 1441.2,494.2 1443.8,494.7 1446.5,495.4 1449.1,496.5 1451.8,497.9 1454.4,499.5 1456.9,501.3 1459.4,503.4 1461.8,505.6 1464.0,507.9 1466.1,510.4 1468.1,513.0 1469.9,515.7 1471.6,518.4 1473.2,521.2 1474.7,524.1 1476.1,526.9 1477.4,529.8 1478.7,532.7 1479.9,535.5 1481.1,538.3 1482.3,541.1 1483.5,543.8 1484.7,546.5 1486.0,549.1 1487.2,551.7 1488.4,554.2 1489.7,556.7 1490.9,559.2 1492.2,561.7 1493.4,564.2 1494.7,566.6 1496.0,569.1 1497.3,571.6 1498.6,574.1 1500.0,576.6 1501.3,579.2 1502.6,581.8 1504.0,584.5 1505.4,587.2 1506.8,590.0 1508.2,592.8 1509.6,595.7 1511.0,598.7 1512.4,601.8 1513.9,604.9 1515.4,608.0 1516.9,611.1 1518.5,614.2 1520.1,617.2 1521.7,620.1 1523.4,623.0 1525.1,625.7 1526.9,628.3 1528.7,630.7 1530.6,632.9 1532.6,634.8 1534.7,636.6 1536.8,638.1 1539.0,639.2 1541.3,640.1 1543.6,640.6 1545.9,640.8 1548.2,640.6 1550.5,640.0 1552.6,639.0 1554.7,637.7 1556.8,636.0 1558.8,634.2 1560.7,632.1 1562.5,629.8 1564.3,627.3 1566.0,624.7 1567.7,622.0 1569.2,619.2 1570.7,616.4 1572.2,613.5 1573.6,610.7 1574.9,607.8 1576.2,604.8 1577.4,601.9 1578.6,598.9 1579.8,596.0 1580.9,593.0 1582.0,590.1 1583.2,587.1 1584.3,584.2 1585.4,581.3 1586.5,578.4 1587.6,575.5 1588.8,572.6 1590.0,569.8 1591.2,567.0 1592.4,564.3 1593.7,561.6 1595.1,559.0 1596.5,556.4 1597.9,553.9 1599.4,551.4 1601.0,549.1 1602.7,546.7 1604.5,544.5 1606.4,542.4 1608.3,540.3 1610.4,538.3 1612.5,536.4 1614.8,534.7 1617.2,533.0 1619.7,531.4 1622.2,529.9 1624.9,528.5 1627.6,527.3 1630.3,526.1 1633.2,525.0 1636.0,524.1 1638.9,523.2 1641.9,522.5 1644.9,521.8 1647.9,521.3 1650.9,520.9 1653.9,520.6 1656.9,520.5 1660.0,520.4 1663.0,520.5 1666.0,520.6 1669.1,520.8 1672.1,521.2 1675.1,521.6 1678.1,522.0 1681.2,522.6 1684.2,523.2 1687.2,523.9 1690.2,524.6 1693.2,525.4 1696.2,526.2 1699.3,527.0 1702.3,527.9 1705.3,528.8 1708.3,529.7 1711.3,530.7 1714.2,531.6 1717.2,532.6 1720.2,533.5 1723.2,534.4 1726.1,535.3 1729.1,536.2 1732.0,537.1 1735.0,537.9 1737.9,538.7 1740.9,539.5 1743.8,540.2 1746.7,540.8 1749.6,541.4 1752.5,541.9 1755.4,542.4 1758.3,542.7 1761.1,543.0 1764.0,543.2 1766.8,543.3 1769.7,543.3 1772.5,543.2 1775.3,543.0 1778.1,542.6 1780.9,542.2 1783.7,541.6 1786.4,540.9 1789.2,540.1 1791.9,539.2 1794.6,538.2 1797.3,537.1 1800.0,535.9 1802.6,534.6 1805.2,533.2 1807.8,531.7 1810.4,530.1 1812.9,528.5 1815.4,526.8 1817.9,525.0 1820.4,523.1 1822.8,521.2 1825.2,519.3 1827.5,517.2 1829.8,515.1 1832.1,513.0 1834.3,510.8 1836.5,508.6 1838.7,506.3 1840.8,504.0 1842.8,501.7 1844.8,499.4 1846.8,497.0 1848.7,494.6 1850.6,492.2 1852.4,489.7 1854.2,487.3 1855.9,484.8 1857.7,482.3 1859.4,479.8 1861.0,477.3 1862.7,474.8 1864.3,472.3 1865.9,469.8 1867.5,467.3 1869.1,464.8 1870.7,462.3 1872.3,459.7 1873.9,457.2 1875.5,454.7 1877.1,452.3 1878.7,449.8 1880.4,447.3 1882.1,444.9 1883.8,442.4 1885.5,440.0 1887.3,437.6 1889.1,435.2 1890.9,432.9 1892.8,430.5 1894.7,428.2 1896.7,425.9 1898.7,423.7 1900.7,421.4 1902.8,419.2 1904.9,417.1 1907.1,414.9 1909.3,412.8 1911.5,410.8 1913.7,408.7 1916.0,406.7 1918.3,404.8 1920.7,402.9 1923.1,401.0 1925.5,399.2 1927.9,397.4 1930.4,395.6 1932.9,393.9 1935.5,392.3 1938.0,390.7 1940.6,389.1 1943.2,387.6 1945.9,386.1 1948.5,384.7 1951.2,383.4 1953.9,382.1 1956.7,380.9 1959.4,379.7 1962.2,378.6 1965.0,377.5 1967.8,376.6 1970.6,375.6 1973.5,374.7 1976.4,373.9 1979.3,373.2 1982.2,372.4 1985.1,371.8 1988.0,371.2 1991.0,370.6 1993.9,370.1 1996.9,369.6 1999.9,369.1 2002.8,368.7 2005.8,368.4 2008.8,368.1 2011.8,367.8 2014.8,367.5 2017.9,367.3 2020.9,367.1 2023.9,366.9 2026.9,366.8 2030.0,366.6 2033.0,366.5 2036.0,366.5 2039.0,366.4 2042.0,366.4 2045.1,366.3 2048.1,366.3 2051.1,366.3 2054.1,366.3 2057.1,366.4 2060.2,366.4 2063.2,366.5 2066.2,366.5 2069.2,366.6 2072.2,366.6 2075.2,366.7 2078.2,366.8 2081.3,366.9 2084.3,366.9 2087.3,367.0 2090.3,367.1 2093.3,367.1 2096.3,367.2 2099.3,367.2 2102.3,367.3 2105.3,367.3 2108.3,367.3 2111.3,367.3 2114.3,367.3 2117.3,367.3 2120.3,367.3 2123.3,367.2 2126.3,367.1 2129.3,367.0 2132.3,366.9 2135.3,366.8 2138.3,366.6 2141.2,366.4 2144.2,366.2 2147.2,366.0 2150.2,365.7 2153.2,365.4 2156.2,365.0 2159.1,364.7 2162.1,364.3 2165.1,363.9 2168.1,363.5 2171.0,363.0 2174.0,362.6 2177.0,362.1 2180.0,361.6 2182.9,361.1 2185.9,360.6 2188.9,360.1 2191.9,359.6 2194.8,359.1 2197.8,358.6 2200.8,358.1 2203.8,357.7 2206.7,357.2 2209.7,356.7 2212.7,356.3 2215.7,355.8 2218.7,355.4 2221.6,355.0 2224.6,354.6 2227.6,354.2 2230.6,353.8 2233.6,353.4 2236.6,353.0 2239.5,352.7 2242.5,352.3 2245.5,352.0 2248.5,351.7 2251.5,351.3 2254.5,351.0 2257.5,350.7 2260.5,350.4 2263.5,350.1 2266.5,349.9 2269.4,349.6 2272.4,349.3 2275.4,349.1 2278.4,348.8 2281.4,348.6 2284.4,348.3 2287.4,348.1 2290.4,347.9 2293.4,347.7 2296.4,347.5 2299.4,347.2 2302.4,347.0 2305.4,346.8 2308.4,346.6 2311.4,346.5 2314.4,346.3 2317.4,346.1 2320.4,345.9 2323.4,345.7 2326.4,345.6 2329.4,345.4 2332.4,345.2 2335.4,345.1 2338.4,344.9 2341.4,344.7 2344.4,344.6 2347.4,344.4 2350.4,344.3 2353.4,344.1 2356.4,343.9 2359.4,343.8 2362.4,343.6 2365.4,343.5 2368.4,343.3 2371.4,343.2 2374.4,343.0 2377.5,342.8 2380.5,342.7 2383.5,342.5 2386.5,342.4 2389.5,342.2 2392.5,342.0 2395.5,341.9 2398.5,341.7 2401.5,341.5 2404.5,341.3 2407.5,341.2 2410.5,341.0 2413.5,340.8" fill="none" stroke="#000000" stroke-width="6" stroke-linejoin="round"/>
<path d="M2413.5,246.4L2410.5,245.9 2407.5,245.5 2404.4,245.1 2401.4,244.7 2398.4,244.3 2395.4,244.0 2392.4,243.6 2389.5,243.3 2386.5,243.0 2383.5,242.7 2380.5,242.4 2377.5,242.1 2374.6,241.9 2371.6,241.6 2368.6,241.3 2365.7,241.1 2362.7,240.8 2359.8,240.6 2356.8,240.3 2353.9,240.1 2350.9,239.8 2348.0,239.6 2345.0,239.3 2342.0,239.0 2339.1,238.8 2336.1,238.5 2333.2,238.2 2330.2,237.8 2327.3,237.5 2324.3,237.2 2321.4,236.8 2318.4,236.4 2315.4,236.0 2312.5,235.6 2309.5,235.2 2306.5,234.7 2303.6,234.2 2300.6,233.7 2297.6,233.1 2294.6,232.6 2291.6,232.0 2288.7,231.3 2285.7,230.7 2282.7,230.0 2279.7,229.3 2276.7,228.6 2273.7,227.9 2270.6,227.2 2267.6,226.4 2264.6,225.7 2261.6,225.0 2258.6,224.2 2255.6,223.5 2252.6,222.8 2249.6,222.1 2246.6,221.4 2243.6,220.8 2240.6,220.1 2237.6,219.5 2234.6,218.9 2231.7,218.4 2228.7,217.8 2225.7,217.3 2222.7,216.9 2219.8,216.5 2216.8,216.1 2213.8,215.8 2210.9,215.5 2208.0,215.3 2205.0,215.2 2202.1,215.1 2199.2,215.0 2196.3,215.1 2193.4,215.2 2190.5,215.4 2187.6,215.6 2184.8,215.9 2181.9,216.3 2179.1,216.8 2176.2,217.4 2173.4,218.0 2170.6,218.7 2167.8,219.4 2164.9,220.2 2162.2,221.1 2159.4,222.0 2156.6,223.0 2153.8,224.0 2151.0,225.1 2148.3,226.2 2145.5,227.3 2142.7,228.5 2140.0,229.7 2137.2,230.9 2134.5,232.2 2131.7,233.5 2128.9,234.8 2126.2,236.1 2123.4,237.4 2120.7,238.8 2117.9,240.1 2115.2,241.5 2112.4,242.8 2109.7,244.2 2106.9,245.5 2104.2,246.9 2101.4,248.2 2098.6,249.5 2095.9,250.8 2093.1,252.0 2090.3,253.3 2087.5,254.5 2084.7,255.7 2081.9,256.9 2079.1,258.0 2076.3,259.1 2073.5,260.2 2070.7,261.3 2067.8,262.3 2065.0,263.3 2062.2,264.3 2059.3,265.3 2056.5,266.3 2053.6,267.2 2050.8,268.1 2047.9,269.0 2045.0,269.8 2042.2,270.7 2039.3,271.5 2036.4,272.3 2033.5,273.1 2030.6,273.8 2027.7,274.6 2024.8,275.3 2021.9,276.0 2019.0,276.7 2016.1,277.4 2013.2,278.1 2010.3,278.7 2007.4,279.3 2004.5,279.9 2001.6,280.5 1998.6,281.1 1995.7,281.7 1992.8,282.3 1989.8,282.8 1986.9,283.3 1984.0,283.9 1981.0,284.4 1978.1,284.9 1975.1,285.4 1972.2,285.9 1969.2,286.3 1966.3,286.8 1963.3,287.2 1960.4,287.7 1957.4,288.1 1954.5,288.5 1951.5,288.9 1948.5,289.3 1945.6,289.7 1942.6,290.1 1939.6,290.4 1936.7,290.8 1933.7,291.1 1930.7,291.5 1927.7,291.8 1924.8,292.1 1921.8,292.4 1918.8,292.7 1915.8,293.0 1912.8,293.3 1909.8,293.6 1906.9,293.9 1903.9,294.1 1900.9,294.4 1897.9,294.6 1894.9,294.9 1891.9,295.1 1888.9,295.3 1885.9,295.6 1882.9,295.8 1879.9,296.0 1876.9,296.2 1873.9,296.4 1870.9,296.6 1867.9,296.8 1864.9,296.9 1861.9,297.1 1858.9,297.3 1855.9,297.4 1852.9,297.6 1849.8,297.8 1846.8,297.9 1843.8,298.0 1840.8,298.2 1837.8,298.3 1834.8,298.5 1831.8,298.6 1828.7,298.7 1825.7,298.8 1822.7,298.9 1819.7,299.1 1816.7,299.2 1813.7,299.3 1810.6,299.4 1807.6,299.5 1804.6,299.6 1801.6,299.7 1798.6,299.8 1795.5,299.9 1792.5,300.0 1789.5,300.1 1786.5,300.1 1783.5,300.2 1780.4,300.3 1777.4,300.4 1774.4,300.5 1771.4,300.6 1768.4,300.6 1765.3,300.7 1762.3,300.8 1759.3,300.9 1756.3,301.0 1753.3,301.0 1750.2,301.1 1747.2,301.2 1744.2,301.3 1741.2,301.4 1738.2,301.5 1735.2,301.5 1732.1,301.6 1729.1,301.7 1726.1,301.8 1723.1,301.9 1720.1,302.0 1717.1,302.1 1714.0,302.2 1711.0,302.3 1708.0,302.4 1705.0,302.5 1702.0,302.6 1699.0,302.7 1696.0,302.8 1693.0,302.9 1690.0,303.0 1686.9,303.1 1683.9,303.2 1680.9,303.3 1677.9,303.4 1674.9,303.5 1671.9,303.6 1668.9,303.7 1665.9,303.9 1662.9,304.0 1659.9,304.1 1656.9,304.2 1653.9,304.3 1650.9,304.4 1647.9,304.5 1644.9,304.7 1641.9,304.8 1638.8,304.9 1635.8,305.0 1632.8,305.1 1629.8,305.3 1626.8,305.4 1623.8,305.5 1620.8,305.6 1617.8,305.7 1614.8,305.9 1611.8,306.0 1608.8,306.1 1605.8,306.2 1602.8,306.3 1599.8,306.5 1596.8,306.6 1593.8,306.7 1590.8,306.8 1587.8,307.0 1584.8,307.1 1581.8,307.2 1578.8,307.3 1575.8,307.5 1572.8,307.6 1569.8,307.7 1566.8,307.8 1563.8,307.9 1560.8,308.1 1557.8,308.2 1554.8,308.3 1551.8,308.4 1548.9,308.5 1545.9,308.7 1542.9,308.8 1539.9,308.9 1536.9,309.0 1533.9,309.1 1530.9,309.3 1527.9,309.4 1524.9,309.5 1521.9,309.6 1518.9,309.7 1515.9,309.8 1512.9,310.0 1509.9,310.1 1506.9,310.2 1503.9,310.3 1500.9,310.4 1497.9,310.5 1494.9,310.6 1491.9,310.7 1488.9,310.8 1485.9,310.9 1482.9,311.0 1479.9,311.1 1476.9,311.2 1473.9,311.3 1470.9,311.4 1467.9,311.5 1464.9,311.6 1461.9,311.7 1458.9,311.8 1455.9,311.9 1452.9,312.0 1449.9,312.1 1446.9,312.2 1443.9,312.3 1440.9,312.4 1437.9,312.4 1434.9,312.5 1431.9,312.6 1428.9,312.7 1425.9,312.8 1422.9,312.8 1419.9,312.9 1416.9,313.0 1413.9,313.1 1410.9,313.1 1407.9,313.2 1404.9,313.3 1401.9,313.3 1398.9,313.4 1395.9,313.4 1392.9,313.5 1389.9,313.6 1386.8,313.6 1383.8,313.7 1380.8,313.7 1377.8,313.8 1374.8,313.8 1371.8,313.9 1368.8,313.9 1365.8,314.0 1362.8,314.0 1359.8,314.0 1356.8,314.1 1353.8,314.1 1350.8,314.2 1347.8,314.2 1344.7,314.2 1341.7,314.3 1338.7,314.3 1335.7,314.3 1332.7,314.4 1329.7,314.4 1326.7,314.4 1323.7,314.5 1320.7,314.5 1317.7,314.5 1314.6,314.5 1311.6,314.6 1308.6,314.6 1305.6,314.6 1302.6,314.6 1299.6,314.6 1296.6,314.7 1293.6,314.7 1290.5,314.7 1287.5,314.7 1284.5,314.7 1281.5,314.8 1278.5,314.8 1275.5,314.8 1272.5,314.8 1269.5,314.8 1266.4,314.8 1263.4,314.8 1260.4,314.8 1257.4,314.8 1254.4,314.9 1251.4,314.9 1248.4,314.9 1245.4,314.9 1242.3,314.9 1239.3,314.9 1236.3,314.9 1233.3,314.9 1230.3,314.9 1227.3,314.9 1224.3,314.9 1221.2,314.9 1218.2,314.9 1215.2,314.9 1212.2,314.9 1209.2,314.9 1206.2,314.9 1203.2,314.9 1200.1,314.9 1197.1,314.9 1194.1,314.9 1191.1,314.9 1188.1,314.9 1185.1,314.9 1182.0,314.9 1179.0,314.9 1176.0,314.9 1173.0,315.0 1170.0,315.0 1167.0,315.0 1164.0,315.0 1160.9,315.0 1157.9,315.0 1154.9,315.0 1151.9,315.0 1148.9,315.0 1145.9,315.0 1142.9,315.0 1139.8,315.0 1136.8,315.0 1133.8,315.0 1130.8,315.1 1127.8,315.1 1124.8,315.1 1121.8,315.1 1118.8,315.2 1115.7,315.2 1112.7,315.3 1109.7,315.3 1106.7,315.4 1103.7,315.4 1100.7,315.5 1097.7,315.6 1094.7,315.7 1091.7,315.8 1088.7,315.9 1085.7,316.0 1082.7,316.1 1079.7,316.2 1076.7,316.3 1073.7,316.5 1070.7,316.6 1067.7,316.8 1064.7,316.9 1061.7,317.1 1058.7,317.3 1055.7,317.5 1052.7,317.7 1049.8,317.9 1046.8,318.2 1043.8,318.4 1040.8,318.7 1037.8,318.9 1034.8,319.2 1031.9,319.5 1028.9,319.8 1025.9,320.2 1022.9,320.5 1020.0,320.8 1017.0,321.2 1014.0,321.6 1011.1,322.0 1008.1,322.4 1005.1,322.8 1002.2,323.3 999.2,323.7 996.3,324.2 993.3,324.7 990.4,325.2 987.4,325.7 984.5,326.3 981.5,326.8 978.6,327.4 975.6,328.0 972.7,328.6 969.8,329.3 966.8,329.9 963.9,330.6 961.0,331.2 958.1,331.9 955.1,332.6 952.2,333.4 949.3,334.1 946.4,334.9 943.5,335.6 940.6,336.4 937.7,337.2 934.8,338.1 931.9,338.9 929.0,339.8 926.2,340.6 923.3,341.5 920.4,342.4 917.5,343.3 914.7,344.3 911.8,345.2 909.0,346.2 906.1,347.2 903.3,348.2 900.4,349.2 897.6,350.2 894.8,351.2 891.9,352.3 889.1,353.4 886.3,354.5 883.5,355.6 880.7,356.7 877.9,357.8 875.1,359.0 872.3,360.1 869.6,361.3 866.8,362.5 864.0,363.7 861.3,364.9 858.5,366.1 855.8,367.4 853.0,368.7 850.3,369.9 847.5,371.2 844.8,372.5 842.1,373.9 839.4,375.2 836.7,376.6 834.0,377.9 831.3,379.3 828.6,380.7 826.0,382.1 823.3,383.5 820.6,385.0 818.0,386.4 815.3,387.9 812.7,389.4 810.1,390.9 807.5,392.4 804.8,393.9 802.2,395.4 799.7,397.0 797.1,398.5 794.5,400.1 791.9,401.7 789.4,403.3 786.8,404.9 784.3,406.5 781.7,408.2 779.2,409.8 776.7,411.5 774.2,413.2 771.7,414.9 769.2,416.6 766.7,418.3 764.2,420.0 761.8,421.8 759.3,423.5 756.9,425.3 754.4,427.1 752.0,428.9 749.6,430.7 747.2,432.5 744.8,434.3 742.4,436.2 740.0,438.0 737.7,439.9 735.3,441.8 733.0,443.7 730.7,445.6 728.3,447.5 726.0,449.4 723.7,451.4 721.4,453.3 719.2,455.3 716.9,457.3 714.6,459.3 712.4,461.3 710.2,463.3 707.9,465.3 705.7,467.4 703.5,469.4 701.4,471.5 699.2,473.6 697.0,475.7 694.9,477.7 692.7,479.9 690.6,482.0 688.5,484.1 686.4,486.3 684.3,488.4 682.2,490.6 680.2,492.7 678.1,494.9 676.1,497.1 674.1,499.3 672.0,501.6 670.0,503.8 668.1,506.0 666.1,508.3 664.1,510.5 662.2,512.8 660.3,515.1 658.3,517.4 656.4,519.7 654.5,522.0 652.7,524.4 650.8,526.7 649.0,529.0 647.1,531.4 645.3,533.8 643.5,536.1 641.7,538.5 639.9,540.9 638.2,543.3 636.4,545.8 634.7,548.2 633.0,550.6 631.3,553.1 629.6,555.5 627.9,558.0 626.2,560.5 624.6,563.0 623.0,565.5 621.4,568.0 619.8,570.5 618.2,573.0 616.6,575.5 615.1,578.1 613.5,580.6 612.0,583.2 610.5,585.8 609.0,588.3 607.5,590.9 606.1,593.5 604.7,596.1 603.2,598.8 601.8,601.4 600.4,604.0 599.1,606.7 597.7,609.3 596.4,612.0 595.1,614.7 593.8,617.3 592.5,620.0 591.2,622.7 589.9,625.4 588.7,628.1 587.5,630.8 586.2,633.6 585.0,636.3 583.9,639.0 582.7,641.8 581.5,644.5 580.4,647.3 579.3,650.1 578.2,652.8 577.1,655.6 576.0,658.4 574.9,661.2 573.9,664.0 572.8,666.8 571.8,669.6 570.8,672.5 569.8,675.3 568.8,678.1 567.8,681.0 566.8,683.8 565.9,686.7 565.0,689.5 564.0,692.4 563.1,695.2 562.2,698.1 561.3,701.0 560.5,703.9 559.6,706.8 558.8,709.7 557.9,712.6 557.1,715.5 556.3,718.4 555.5,721.3 554.7,724.2 553.9,727.1 553.1,730.0 552.4,733.0 551.6,735.9 550.9,738.8 550.1,741.8 549.4,744.7 548.7,747.7 548.0,750.6 547.3,753.6 546.7,756.5 546.0,759.5 545.3,762.5 544.7,765.4 544.0,768.4 543.4,771.4 542.8,774.3 542.2,777.3 541.6,780.3 541.0,783.3 540.4,786.3 539.8,789.2 539.3,792.2 538.7,795.2 538.1,798.2 537.6,801.2 537.1,804.2 536.5,807.2 536.0,810.2 535.5,813.2 535.0,816.2 534.5,819.2 534.0,822.2 533.5,825.2 533.1,828.2 532.6,831.2 532.1,834.2 531.7,837.2 531.2,840.2 530.8,843.2 530.3,846.2 529.9,849.2 529.5,852.2 529.1,855.2 528.6,858.2 528.2,861.2 527.8,864.2 527.4,867.2 527.0,870.2 526.7,873.2 526.3,876.2 525.9,879.2 525.5,882.2 525.2,885.2 524.8,888.2 524.4,891.2 524.1,894.2 523.7,897.2 523.4,900.1 523.1,903.1 522.7,906.1 522.4,909.1 522.1,912.1 521.7,915.0 521.4,918.0 521.1,921.0 520.8,924.0 520.5,926.9 520.1,929.9 519.8,932.8 519.5,935.8 519.2,938.8 518.9,941.7 518.6,944.7 518.3,947.6 518.0,950.5 517.7,953.5 517.4,956.4 517.1,959.3 516.9,962.2 516.6,965.2 516.3,968.1 516.0,971.0L518.7,969.7 521.4,968.3 524.0,967.0 526.7,965.6 529.3,964.1 531.9,962.7 534.5,961.2 537.1,959.7 539.7,958.2 542.3,956.7 544.9,955.2 547.4,953.6 550.0,952.0 552.5,950.4 555.0,948.8 557.5,947.2 560.0,945.5 562.5,943.8 565.0,942.2 567.5,940.5 570.0,938.8 572.4,937.0 574.9,935.3 577.3,933.6 579.8,931.8 582.2,930.0 584.6,928.3 587.1,926.5 589.5,924.7 591.9,922.9 594.3,921.1 596.7,919.2 599.1,917.4 601.5,915.6 603.9,913.7 606.3,911.9 608.7,910.1 611.1,908.2 613.4,906.4 615.8,904.5 618.2,902.6 620.6,900.8 623.0,898.9 625.4,897.1 627.7,895.2 630.1,893.3 632.5,891.5 634.9,889.6 637.3,887.8 639.6,885.9 642.0,884.1 644.4,882.3 646.8,880.4 649.2,878.6 651.6,876.8 654.0,875.0 656.4,873.2 658.8,871.4 661.2,869.6 663.7,867.8 666.1,866.0 668.5,864.3 671.0,862.5 673.4,860.8 675.8,859.0 678.3,857.3 680.8,855.6 683.2,854.0 685.7,852.3 688.2,850.6 690.7,849.0 693.2,847.4 695.7,845.8 698.2,844.2 700.8,842.6 703.3,841.0 705.9,839.5 708.4,838.0 711.0,836.4 713.5,834.9 716.1,833.4 718.7,831.9 721.3,830.5 723.9,829.0 726.5,827.6 729.1,826.1 731.8,824.7 734.4,823.3 737.0,821.9 739.7,820.5 742.3,819.1 745.0,817.7 747.7,816.3 750.3,814.9 753.0,813.6 755.7,812.2 758.4,810.8 761.1,809.5 763.8,808.1 766.5,806.8 769.2,805.5 772.0,804.1 774.7,802.8 777.4,801.5 780.2,800.2 782.9,798.8 785.7,797.5 788.4,796.2 791.2,794.9 793.9,793.6 796.7,792.2 799.5,790.9 802.2,789.6 805.0,788.2 807.7,786.9 810.5,785.6 813.2,784.2 816.0,782.8 818.7,781.5 821.5,780.1 824.2,778.7 826.9,777.3 829.6,775.9 832.3,774.5 835.0,773.1 837.7,771.7 840.4,770.2 843.0,768.7 845.7,767.3 848.3,765.8 850.9,764.2 853.5,762.7 856.1,761.2 858.7,759.6 861.2,758.0 863.8,756.4 866.3,754.8 868.8,753.1 871.3,751.5 873.7,749.8 876.2,748.1 878.6,746.4 881.0,744.7 883.4,742.9 885.8,741.2 888.2,739.4 890.5,737.6 892.9,735.8 895.2,733.9 897.5,732.1 899.8,730.2 902.1,728.3 904.4,726.4 906.6,724.5 908.9,722.6 911.1,720.7 913.3,718.7 915.5,716.8 917.7,714.8 919.9,712.8 922.1,710.8 924.2,708.8 926.4,706.7 928.5,704.7 930.6,702.6 932.7,700.5 934.8,698.5 936.9,696.4 939.0,694.3 941.1,692.1 943.1,690.0 945.2,687.9 947.2,685.7 949.3,683.5 951.3,681.4 953.3,679.2 955.3,677.0 957.3,674.8 959.3,672.6 961.3,670.3 963.3,668.1 965.2,665.9 967.2,663.6 969.1,661.4 971.1,659.1 973.0,656.8 975.0,654.5 976.9,652.2 978.8,649.9 980.8,647.6 982.7,645.3 984.6,643.0 986.5,640.7 988.4,638.3 990.3,636.0 992.2,633.7 994.1,631.3 996.0,629.0 997.8,626.6 999.7,624.2 1001.6,621.9 1003.5,619.5 1005.3,617.1 1007.2,614.7 1009.1,612.3 1010.9,609.9 1012.8,607.5 1014.7,605.1 1016.5,602.7 1018.4,600.3 1020.3,597.9 1022.1,595.5 1024.0,593.1 1025.8,590.7 1027.7,588.3 1029.6,585.9 1031.4,583.5 1033.3,581.0 1035.2,578.6 1037.0,576.2 1038.9,573.8 1040.8,571.4 1042.6,568.9 1044.5,566.5 1046.4,564.1 1048.3,561.7 1050.1,559.3 1052.0,556.9 1053.9,554.4 1055.8,552.0 1057.7,549.6 1059.6,547.2 1061.5,544.8 1063.4,542.5 1065.3,540.1 1067.2,537.7 1069.2,535.3 1071.1,532.9 1073.0,530.6 1075.0,528.2 1076.9,525.9 1078.9,523.5 1080.8,521.2 1082.8,518.8 1084.7,516.5 1086.7,514.2 1088.7,511.9 1090.7,509.6 1092.7,507.3 1094.7,505.0 1096.7,502.8 1098.7,500.5 1100.7,498.3 1102.8,496.0 1104.8,493.8 1106.9,491.6 1108.9,489.4 1111.0,487.2 1113.1,485.0 1115.2,482.9 1117.2,480.7 1119.4,478.6 1121.5,476.5 1123.6,474.4 1125.7,472.3 1127.9,470.2 1130.0,468.1 1132.2,466.1 1134.4,464.1 1136.6,462.0 1138.8,460.0 1141.0,458.1 1143.2,456.1 1145.5,454.2 1147.7,452.2 1150.0,450.3 1152.3,448.4 1154.6,446.6 1156.9,444.7 1159.2,442.9 1161.5,441.1 1163.8,439.3 1166.2,437.5 1168.6,435.8 1171.0,434.1 1173.4,432.4 1175.8,430.7 1178.2,429.0 1180.6,427.4 1183.1,425.8 1185.6,424.2 1188.1,422.6 1190.6,421.1 1193.1,419.6 1195.6,418.1 1198.2,416.6 1200.8,415.2 1203.3,413.8 1205.9,412.4 1208.5,411.0 1211.1,409.6 1213.8,408.3 1216.4,407.0 1219.1,405.7 1221.8,404.4 1224.4,403.1 1227.1,401.9 1229.8,400.7 1232.6,399.5 1235.3,398.3 1238.0,397.2 1240.8,396.0 1243.5,394.9 1246.3,393.8 1249.1,392.7 1251.9,391.7 1254.7,390.6 1257.5,389.6 1260.3,388.6 1263.2,387.6 1266.0,386.6 1268.8,385.7 1271.7,384.8 1274.6,383.8 1277.4,382.9 1280.3,382.1 1283.2,381.2 1286.1,380.4 1289.0,379.5 1291.9,378.7 1294.8,377.9 1297.8,377.1 1300.7,376.3 1303.6,375.6 1306.6,374.8 1309.5,374.1 1312.5,373.4 1315.5,372.7 1318.4,372.0 1321.4,371.4 1324.4,370.7 1327.4,370.1 1330.3,369.4 1333.3,368.8 1336.3,368.2 1339.3,367.6 1342.3,367.1 1345.3,366.5 1348.3,365.9 1351.3,365.4 1354.4,364.9 1357.4,364.4 1360.4,363.9 1363.4,363.4 1366.4,362.9 1369.4,362.4 1372.5,361.9 1375.5,361.5 1378.5,361.1 1381.6,360.6 1384.6,360.2 1387.6,359.8 1390.6,359.4 1393.7,359.0 1396.7,358.6 1399.7,358.2 1402.7,357.9 1405.8,357.5 1408.8,357.2 1411.8,356.8 1414.8,356.5 1417.8,356.2 1420.9,355.9 1423.9,355.5 1426.9,355.2 1429.9,355.0 1432.9,354.7 1435.9,354.4 1439.0,354.1 1442.0,353.8 1445.0,353.6 1448.0,353.3 1451.0,353.1 1454.0,352.9 1457.0,352.6 1460.0,352.4 1463.0,352.2 1466.0,352.0 1469.0,351.8 1472.0,351.6 1475.0,351.4 1478.0,351.2 1481.0,351.0 1484.0,350.8 1487.0,350.6 1490.0,350.5 1493.0,350.3 1496.0,350.1 1499.0,350.0 1502.0,349.8 1505.0,349.7 1508.0,349.5 1511.0,349.4 1514.0,349.3 1517.0,349.1 1520.0,349.0 1523.0,348.9 1526.0,348.8 1529.0,348.6 1531.9,348.5 1534.9,348.4 1537.9,348.3 1540.9,348.2 1543.9,348.1 1546.9,348.0 1549.9,347.9 1552.9,347.8 1555.8,347.7 1558.8,347.7 1561.8,347.6 1564.8,347.5 1567.8,347.4 1570.8,347.3 1573.8,347.2 1576.7,347.2 1579.7,347.1 1582.7,347.0 1585.7,347.0 1588.7,346.9 1591.7,346.8 1594.7,346.7 1597.6,346.7 1600.6,346.6 1603.6,346.5 1606.6,346.5 1609.6,346.4 1612.6,346.3 1615.5,346.3 1618.5,346.2 1621.5,346.1 1624.5,346.1 1627.5,346.0 1630.5,345.9 1633.4,345.9 1636.4,345.8 1639.4,345.7 1642.4,345.7 1645.4,345.6 1648.4,345.5 1651.4,345.4 1654.3,345.4 1657.3,345.3 1660.3,345.2 1663.3,345.1 1666.3,345.0 1669.3,344.9 1672.3,344.9 1675.3,344.8 1678.2,344.7 1681.2,344.6 1684.2,344.5 1687.2,344.4 1690.2,344.3 1693.2,344.2 1696.2,344.0 1699.2,343.9 1702.2,343.8 1705.2,343.7 1708.2,343.6 1711.2,343.4 1714.2,343.3 1717.1,343.2 1720.1,343.0 1723.1,342.9 1726.1,342.7 1729.1,342.6 1732.1,342.4 1735.1,342.3 1738.1,342.1 1741.1,341.9 1744.1,341.7 1747.1,341.5 1750.1,341.4 1753.1,341.2 1756.2,341.0 1759.2,340.8 1762.2,340.6 1765.2,340.4 1768.2,340.2 1771.2,340.0 1774.2,339.8 1777.2,339.5 1780.2,339.3 1783.2,339.1 1786.2,338.9 1789.2,338.7 1792.3,338.4 1795.3,338.2 1798.3,338.0 1801.3,337.8 1804.3,337.5 1807.3,337.3 1810.3,337.1 1813.3,336.9 1816.4,336.6 1819.4,336.4 1822.4,336.2 1825.4,336.0 1828.4,335.7 1831.4,335.5 1834.4,335.3 1837.5,335.1 1840.5,334.8 1843.5,334.6 1846.5,334.4 1849.5,334.2 1852.5,334.0 1855.6,333.8 1858.6,333.6 1861.6,333.4 1864.6,333.2 1867.6,333.0 1870.6,332.8 1873.7,332.6 1876.7,332.4 1879.7,332.2 1882.7,332.0 1885.7,331.9 1888.7,331.7 1891.8,331.5 1894.8,331.4 1897.8,331.2 1900.8,331.1 1903.8,330.9 1906.8,330.8 1909.9,330.7 1912.9,330.5 1915.9,330.4 1918.9,330.3 1921.9,330.2 1924.9,330.1 1927.9,330.0 1931.0,329.9 1934.0,329.8 1937.0,329.8 1940.0,329.7 1943.0,329.7 1946.0,329.6 1949.0,329.6 1952.0,329.5 1955.1,329.5 1958.1,329.5 1961.1,329.5 1964.1,329.5 1967.1,329.5 1970.1,329.6 1973.1,329.6 1976.1,329.6 1979.1,329.7 1982.1,329.8 1985.1,329.8 1988.1,329.9 1991.2,330.0 1994.2,330.1 1997.2,330.2 2000.2,330.3 2003.2,330.4 2006.2,330.6 2009.2,330.7 2012.2,330.8 2015.2,331.0 2018.2,331.1 2021.2,331.3 2024.2,331.4 2027.2,331.6 2030.2,331.7 2033.2,331.9 2036.2,332.1 2039.2,332.3 2042.2,332.4 2045.2,332.6 2048.2,332.8 2051.2,333.0 2054.2,333.1 2057.2,333.3 2060.2,333.5 2063.2,333.7 2066.2,333.8 2069.2,334.0 2072.1,334.2 2075.1,334.4 2078.1,334.5 2081.1,334.7 2084.1,334.9 2087.1,335.0 2090.1,335.2 2093.1,335.3 2096.1,335.5 2099.1,335.6 2102.1,335.8 2105.1,335.9 2108.1,336.0 2111.1,336.1 2114.1,336.3 2117.1,336.4 2120.1,336.5 2123.1,336.6 2126.1,336.6 2129.1,336.7 2132.0,336.8 2135.0,336.8 2138.0,336.9 2141.0,336.9 2144.0,336.9 2147.0,337.0 2150.0,337.0 2153.0,337.0 2156.0,336.9 2159.0,336.9 2162.0,336.9 2165.0,336.8 2168.0,336.7 2171.0,336.6 2174.0,336.6 2177.0,336.4 2180.0,336.3 2183.0,336.2 2186.0,336.0 2188.9,335.9 2191.9,335.7 2194.9,335.5 2197.9,335.3 2200.9,335.1 2203.9,334.9 2206.9,334.6 2209.9,334.4 2212.9,334.1 2215.9,333.8 2218.9,333.5 2221.8,333.2 2224.8,332.9 2227.8,332.6 2230.8,332.3 2233.8,331.9 2236.8,331.6 2239.7,331.2 2242.7,330.9 2245.7,330.5 2248.7,330.1 2251.7,329.8 2254.6,329.4 2257.6,329.0 2260.6,328.7 2263.6,328.3 2266.6,328.0 2269.6,327.6 2272.5,327.3 2275.5,326.9 2278.5,326.6 2281.5,326.2 2284.5,325.9 2287.4,325.6 2290.4,325.2 2293.4,324.9 2296.4,324.6 2299.4,324.3 2302.4,324.0 2305.4,323.7 2308.3,323.4 2311.3,323.1 2314.3,322.8 2317.3,322.6 2320.3,322.3 2323.3,322.0 2326.3,321.8 2329.3,321.6 2332.3,321.3 2335.3,321.1 2338.3,320.9 2341.3,320.7 2344.3,320.5 2347.3,320.3 2350.3,320.1 2353.3,319.9 2356.3,319.8 2359.3,319.6 2362.3,319.5 2365.3,319.4 2368.3,319.3 2371.3,319.2 2374.3,319.1 2377.3,319.0 2380.3,318.9 2383.3,318.9 2386.3,318.8 2389.3,318.8 2392.4,318.8 2395.4,318.7 2398.4,318.8 2401.4,318.8 2404.4,318.8 2407.5,318.9 2410.5,318.9 2413.5,319.0" fill="none" stroke="#00FFFF" stroke-width="6" stroke-linejoin="round"/>
<path d="M2413.5,293.2L2410.5,293.3 2407.5,293.5 2404.5,293.6 2401.5,293.7 2398.4,293.9 2395.4,294.0 2392.4,294.1 2389.4,294.3 2386.4,294.4 2383.4,294.6 2380.4,294.7 2377.4,294.8 2374.4,295.0 2371.3,295.1 2368.3,295.2 2365.3,295.4 2362.3,295.5 2359.3,295.7 2356.3,295.8 2353.3,295.9 2350.3,296.1 2347.3,296.2 2344.3,296.4 2341.2,296.5 2338.2,296.6 2335.2,296.8 2332.2,296.9 2329.2,297.1 2326.2,297.2 2323.2,297.3 2320.2,297.5 2317.2,297.6 2314.2,297.8 2311.2,297.9 2308.1,298.0 2305.1,298.2 2302.1,298.3 2299.1,298.5 2296.1,298.6 2293.1,298.7 2290.1,298.9 2287.1,299.0 2284.1,299.2 2281.1,299.3 2278.1,299.4 2275.1,299.6 2272.0,299.7 2269.0,299.9 2266.0,300.0 2263.0,300.1 2260.0,300.3 2257.0,300.4 2254.0,300.6 2251.0,300.7 2248.0,300.8 2245.0,301.0 2242.0,301.1 2239.0,301.2 2235.9,301.4 2232.9,301.5 2229.9,301.7 2226.9,301.8 2223.9,301.9 2220.9,302.1 2217.9,302.2 2214.9,302.3 2211.9,302.5 2208.9,302.6 2205.9,302.7 2202.9,302.9 2199.9,303.0 2196.8,303.1 2193.8,303.3 2190.8,303.4 2187.8,303.5 2184.8,303.6 2181.8,303.8 2178.8,303.9 2175.8,304.0 2172.8,304.2 2169.8,304.3 2166.8,304.4 2163.8,304.5 2160.8,304.7 2157.7,304.8 2154.7,304.9 2151.7,305.0 2148.7,305.2 2145.7,305.3 2142.7,305.4 2139.7,305.5 2136.7,305.7 2133.7,305.8 2130.7,305.9 2127.7,306.0 2124.7,306.1 2121.6,306.2 2118.6,306.4 2115.6,306.5 2112.6,306.6 2109.6,306.7 2106.6,306.8 2103.6,306.9 2100.6,307.0 2097.6,307.2 2094.6,307.3 2091.6,307.4 2088.6,307.5 2085.5,307.6 2082.5,307.7 2079.5,307.8 2076.5,307.9 2073.5,308.0 2070.5,308.1 2067.5,308.2 2064.5,308.3 2061.5,308.4 2058.5,308.5 2055.4,308.6 2052.4,308.7 2049.4,308.8 2046.4,308.9 2043.4,309.0 2040.4,309.1 2037.4,309.2 2034.4,309.3 2031.4,309.3 2028.4,309.4 2025.3,309.5 2022.3,309.6 2019.3,309.7 2016.3,309.8 2013.3,309.9 2010.3,309.9 2007.3,310.0 2004.3,310.1 2001.3,310.2 1998.2,310.2 1995.2,310.3 1992.2,310.4 1989.2,310.5 1986.2,310.5 1983.2,310.6 1980.2,310.7 1977.2,310.7 1974.1,310.8 1971.1,310.9 1968.1,310.9 1965.1,311.0 1962.1,311.1 1959.1,311.1 1956.1,311.2 1953.1,311.2 1950.0,311.3 1947.0,311.3 1944.0,311.4 1941.0,311.4 1938.0,311.5 1935.0,311.5 1932.0,311.6 1928.9,311.6 1925.9,311.7 1922.9,311.7 1919.9,311.8 1916.9,311.8 1913.9,311.9 1910.9,311.9 1907.8,312.0 1904.8,312.0 1901.8,312.0 1898.8,312.1 1895.8,312.1 1892.8,312.2 1889.7,312.2 1886.7,312.2 1883.7,312.3 1880.7,312.3 1877.7,312.4 1874.7,312.4 1871.7,312.4 1868.6,312.5 1865.6,312.5 1862.6,312.6 1859.6,312.6 1856.6,312.6 1853.6,312.7 1850.6,312.7 1847.5,312.8 1844.5,312.8 1841.5,312.8 1838.5,312.9 1835.5,312.9 1832.5,313.0 1829.4,313.0 1826.4,313.0 1823.4,313.1 1820.4,313.1 1817.4,313.2 1814.4,313.2 1811.4,313.3 1808.3,313.3 1805.3,313.4 1802.3,313.4 1799.3,313.5 1796.3,313.5 1793.3,313.5 1790.3,313.6 1787.2,313.7 1784.2,313.7 1781.2,313.8 1778.2,313.8 1775.2,313.9 1772.2,313.9 1769.2,314.0 1766.2,314.0 1763.1,314.1 1760.1,314.2 1757.1,314.2 1754.1,314.3 1751.1,314.4 1748.1,314.4 1745.1,314.5 1742.1,314.6 1739.0,314.6 1736.0,314.7 1733.0,314.8 1730.0,314.9 1727.0,314.9 1724.0,315.0 1721.0,315.1 1718.0,315.2 1715.0,315.3 1712.0,315.4 1708.9,315.5 1705.9,315.5 1702.9,315.6 1699.9,315.7 1696.9,315.8 1693.9,315.9 1690.9,316.0 1687.9,316.1 1684.9,316.2 1681.9,316.4 1678.9,316.5 1675.9,316.6 1672.9,316.7 1669.8,316.8 1666.8,316.9 1663.8,317.1 1660.8,317.2 1657.8,317.3 1654.8,317.5 1651.8,317.6 1648.8,317.7 1645.8,317.9 1642.8,318.0 1639.8,318.2 1636.8,318.3 1633.8,318.5 1630.8,318.6 1627.8,318.8 1624.8,318.9 1621.8,319.1 1618.8,319.3 1615.8,319.4 1612.8,319.6 1609.8,319.8 1606.8,320.0 1603.8,320.2 1600.8,320.3 1597.8,320.5 1594.8,320.7 1591.8,320.9 1588.8,321.1 1585.8,321.4 1582.8,321.6 1579.8,321.8 1576.8,322.0 1573.8,322.3 1570.8,322.6 1567.9,322.8 1564.9,323.1 1561.9,323.4 1558.9,323.8 1555.9,324.1 1552.9,324.4 1550.0,324.8 1547.0,325.2 1544.0,325.6 1541.1,326.0 1538.1,326.5 1535.1,327.0 1532.2,327.4 1529.2,328.0 1526.3,328.5 1523.3,329.1 1520.4,329.7 1517.4,330.3 1514.5,330.9 1511.5,331.6 1508.6,332.3 1505.7,333.0 1502.7,333.8 1499.8,334.6 1496.9,335.4 1494.0,336.2 1491.1,337.1 1488.2,338.0 1485.3,338.9 1482.4,339.8 1479.5,340.8 1476.6,341.7 1473.8,342.8 1470.9,343.8 1468.1,344.8 1465.2,345.9 1462.4,347.0 1459.5,348.1 1456.7,349.3 1453.9,350.4 1451.1,351.6 1448.3,352.8 1445.5,354.1 1442.7,355.3 1440.0,356.6 1437.2,357.9 1434.5,359.2 1431.8,360.5 1429.1,361.9 1426.4,363.3 1423.8,364.8 1421.2,366.3 1418.6,367.8 1416.0,369.3 1413.5,370.9 1411.0,372.5 1408.6,374.2 1406.2,375.9 1403.8,377.7 1401.5,379.5 1399.2,381.4 1397.0,383.3 1394.8,385.2 1392.7,387.2 1390.6,389.3 1388.6,391.4 1386.7,393.6 1384.8,395.8 1383.0,398.1 1381.2,400.5 1379.5,402.9 1377.9,405.4 1376.4,408.0 1374.9,410.6 1373.5,413.3L1376.5,413.5 1379.4,413.8 1382.3,414.2 1385.2,414.7 1388.1,415.2 1391.0,415.9 1393.8,416.6 1396.6,417.3 1399.5,418.1 1402.3,419.0 1405.1,419.9 1407.9,420.9 1410.7,422.0 1413.5,423.0 1416.3,424.1 1419.1,425.3 1422.0,426.5 1424.8,427.7 1427.6,428.9 1430.5,430.2 1433.3,431.4 1436.1,432.7 1439.0,434.0 1441.9,435.3 1444.7,436.6 1447.6,437.9 1450.5,439.2 1453.3,440.5 1456.2,441.7 1459.1,443.0 1462.0,444.2 1464.8,445.4 1467.7,446.6 1470.6,447.7 1473.5,448.8 1476.4,449.9 1479.3,450.9 1482.1,451.8 1485.0,452.8 1487.9,453.6 1490.8,454.4 1493.7,455.1 1496.5,455.8 1499.4,456.4 1502.3,456.9 1505.2,457.4 1508.0,457.7 1510.9,458.0 1513.8,458.2 1516.6,458.2 1519.5,458.2 1522.3,458.1 1525.1,457.9 1528.0,457.6 1530.8,457.1 1533.6,456.6 1536.4,456.0 1539.2,455.3 1542.0,454.5 1544.8,453.5 1547.5,452.6 1550.2,451.5 1552.9,450.3 1555.6,449.1 1558.3,447.8 1561.0,446.4 1563.6,444.9 1566.2,443.4 1568.8,441.7 1571.3,440.1 1573.8,438.3 1576.3,436.5 1578.8,434.7 1581.2,432.7 1583.6,430.8 1586.0,428.7 1588.3,426.6 1590.6,424.5 1592.8,422.3 1595.0,420.1 1597.2,417.9 1599.4,415.6 1601.5,413.3 1603.6,411.0 1605.7,408.6 1607.8,406.3 1609.9,404.0 1611.9,401.6 1614.0,399.3 1616.1,397.0 1618.2,394.7 1620.3,392.5 1622.4,390.3 1624.5,388.1 1626.7,385.9 1628.8,383.8 1631.0,381.8 1633.3,379.8 1635.5,377.9 1637.9,376.1 1640.2,374.3 1642.6,372.6 1645.0,371.0 1647.5,369.4 1649.9,367.9 1652.5,366.4 1655.0,365.0 1657.6,363.7 1660.2,362.4 1662.8,361.2 1665.5,360.0 1668.2,358.9 1670.9,357.8 1673.7,356.8 1676.4,355.8 1679.2,354.9 1682.0,354.0 1684.9,353.2 1687.7,352.4 1690.6,351.6 1693.5,350.9 1696.4,350.2 1699.3,349.6 1702.2,349.0 1705.2,348.4 1708.1,347.8 1711.1,347.3 1714.1,346.8 1717.1,346.4 1720.1,345.9 1723.1,345.5 1726.1,345.1 1729.1,344.8 1732.2,344.4 1735.2,344.1 1738.2,343.8 1741.3,343.5 1744.3,343.2 1747.3,342.9 1750.4,342.7 1753.4,342.4 1756.5,342.2 1759.5,341.9 1762.5,341.7 1765.6,341.5 1768.6,341.3 1771.6,341.1 1774.6,340.9 1777.7,340.8 1780.7,340.6 1783.7,340.4 1786.8,340.3 1789.8,340.1 1792.8,340.0 1795.8,339.9 1798.9,339.7 1801.9,339.6 1804.9,339.5 1807.9,339.4 1810.9,339.3 1814.0,339.2 1817.0,339.1 1820.0,339.0 1823.0,338.9 1826.0,338.9 1829.1,338.8 1832.1,338.7 1835.1,338.6 1838.1,338.6 1841.1,338.5 1844.1,338.4 1847.1,338.4 1850.2,338.3 1853.2,338.3 1856.2,338.2 1859.2,338.2 1862.2,338.1 1865.2,338.1 1868.2,338.0 1871.2,338.0 1874.3,337.9 1877.3,337.8 1880.3,337.8 1883.3,337.7 1886.3,337.7 1889.3,337.6 1892.3,337.6 1895.3,337.5 1898.3,337.4 1901.3,337.4 1904.4,337.3 1907.4,337.2 1910.4,337.1 1913.4,337.0 1916.4,337.0 1919.4,336.9 1922.4,336.8 1925.4,336.7 1928.4,336.6 1931.5,336.5 1934.5,336.4 1937.5,336.3 1940.5,336.2 1943.5,336.1 1946.5,336.0 1949.5,335.9 1952.5,335.7 1955.5,335.6 1958.5,335.5 1961.6,335.4 1964.6,335.3 1967.6,335.1 1970.6,335.0 1973.6,334.9 1976.6,334.7 1979.6,334.6 1982.6,334.5 1985.6,334.3 1988.7,334.2 1991.7,334.1 1994.7,333.9 1997.7,333.8 2000.7,333.6 2003.7,333.5 2006.7,333.3 2009.7,333.2 2012.7,333.0 2015.8,332.9 2018.8,332.7 2021.8,332.6 2024.8,332.4 2027.8,332.2 2030.8,332.1 2033.8,331.9 2036.8,331.7 2039.8,331.6 2042.9,331.4 2045.9,331.2 2048.9,331.1 2051.9,330.9 2054.9,330.7 2057.9,330.6 2060.9,330.4 2063.9,330.2 2066.9,330.1 2070.0,329.9 2073.0,329.7 2076.0,329.5 2079.0,329.3 2082.0,329.2 2085.0,329.0 2088.0,328.8 2091.0,328.6 2094.1,328.5 2097.1,328.3 2100.1,328.1 2103.1,327.9 2106.1,327.7 2109.1,327.6 2112.1,327.4 2115.1,327.2 2118.1,327.0 2121.2,326.8 2124.2,326.6 2127.2,326.5 2130.2,326.3 2133.2,326.1 2136.2,325.9 2139.2,325.7 2142.2,325.6 2145.3,325.4 2148.3,325.2 2151.3,325.0 2154.3,324.8 2157.3,324.7 2160.3,324.5 2163.3,324.3 2166.3,324.1 2169.4,323.9 2172.4,323.8 2175.4,323.6 2178.4,323.4 2181.4,323.2 2184.4,323.1 2187.4,322.9 2190.4,322.7 2193.5,322.5 2196.5,322.4 2199.5,322.2 2202.5,322.0 2205.5,321.9 2208.5,321.7 2211.5,321.5 2214.5,321.4 2217.6,321.2 2220.6,321.0 2223.6,320.9 2226.6,320.7 2229.6,320.6 2232.6,320.4 2235.6,320.3 2238.7,320.1 2241.7,320.0 2244.7,319.8 2247.7,319.7 2250.7,319.5 2253.7,319.4 2256.7,319.2 2259.7,319.1 2262.8,318.9 2265.8,318.8 2268.8,318.7 2271.8,318.5 2274.8,318.4 2277.8,318.3 2280.8,318.1 2283.9,318.0 2286.9,317.9 2289.9,317.8 2292.9,317.6 2295.9,317.5 2298.9,317.4 2301.9,317.3 2305.0,317.2 2308.0,317.1 2311.0,317.0 2314.0,316.9 2317.0,316.8 2320.0,316.7 2323.0,316.6 2326.1,316.5 2329.1,316.4 2332.1,316.3 2335.1,316.2 2338.1,316.1 2341.1,316.0 2344.1,316.0 2347.2,315.9 2350.2,315.8 2353.2,315.8 2356.2,315.7 2359.2,315.6 2362.2,315.6 2365.3,315.5 2368.3,315.5 2371.3,315.4 2374.3,315.4 2377.3,315.3 2380.3,315.3 2383.3,315.3 2386.4,315.2 2389.4,315.2 2392.4,315.2 2395.4,315.2 2398.4,315.1 2401.4,315.1 2404.5,315.1 2407.5,315.1 2410.5,315.1 2413.5,315.1" fill="none" stroke="#FF8000" stroke-width="6" stroke-linejoin="round"/>
<path d="M2413.5,296.1L2410.5,295.9 2407.5,295.8 2404.5,295.6 2401.5,295.5 2398.5,295.3 2395.5,295.2 2392.5,295.1 2389.4,294.9 2386.4,294.8 2383.4,294.7 2380.4,294.6 2377.4,294.5 2374.4,294.4 2371.4,294.3 2368.4,294.2 2365.4,294.1 2362.4,294.0 2359.4,293.9 2356.4,293.8 2353.4,293.7 2350.4,293.7 2347.4,293.6 2344.4,293.5 2341.4,293.5 2338.3,293.4 2335.3,293.4 2332.3,293.3 2329.3,293.3 2326.3,293.2 2323.3,293.2 2320.3,293.1 2317.3,293.1 2314.3,293.1 2311.3,293.1 2308.3,293.0 2305.3,293.0 2302.3,293.0 2299.3,293.0 2296.3,293.0 2293.3,293.0 2290.3,293.0 2287.3,293.0 2284.3,293.0 2281.3,293.0 2278.2,293.0 2275.2,293.0 2272.2,293.0 2269.2,293.1 2266.2,293.1 2263.2,293.1 2260.2,293.1 2257.2,293.2 2254.2,293.2 2251.2,293.2 2248.2,293.3 2245.2,293.3 2242.2,293.4 2239.2,293.4 2236.2,293.5 2233.2,293.5 2230.2,293.6 2227.2,293.6 2224.2,293.7 2221.2,293.8 2218.2,293.8 2215.2,293.9 2212.2,294.0 2209.2,294.0 2206.2,294.1 2203.1,294.2 2200.1,294.3 2197.1,294.3 2194.1,294.4 2191.1,294.5 2188.1,294.6 2185.1,294.7 2182.1,294.8 2179.1,294.9 2176.1,295.0 2173.1,295.1 2170.1,295.2 2167.1,295.3 2164.1,295.4 2161.1,295.5 2158.1,295.6 2155.1,295.7 2152.1,295.8 2149.1,295.9 2146.1,296.0 2143.1,296.1 2140.1,296.2 2137.1,296.4 2134.1,296.5 2131.1,296.6 2128.1,296.7 2125.1,296.8 2122.0,297.0 2119.0,297.1 2116.0,297.2 2113.0,297.3 2110.0,297.5 2107.0,297.6 2104.0,297.7 2101.0,297.8 2098.0,298.0 2095.0,298.1 2092.0,298.2 2089.0,298.4 2086.0,298.5 2083.0,298.6 2080.0,298.8 2077.0,298.9 2074.0,299.0 2071.0,299.2 2068.0,299.3 2065.0,299.4 2062.0,299.6 2059.0,299.7 2056.0,299.9 2053.0,300.0 2050.0,300.1 2047.0,300.3 2044.0,300.4 2041.0,300.6 2037.9,300.7 2034.9,300.8 2031.9,301.0 2028.9,301.1 2025.9,301.3 2022.9,301.4 2019.9,301.5 2016.9,301.7 2013.9,301.8 2010.9,302.0 2007.9,302.1 2004.9,302.2 2001.9,302.4 1998.9,302.5 1995.9,302.6 1992.9,302.8 1989.9,302.9 1986.9,303.1 1983.9,303.2 1980.9,303.3 1977.9,303.5 1974.9,303.6 1971.9,303.7 1968.9,303.9 1965.9,304.0 1962.9,304.1 1959.8,304.3 1956.8,304.4 1953.8,304.5 1950.8,304.6 1947.8,304.8 1944.8,304.9 1941.8,305.0 1938.8,305.1 1935.8,305.3 1932.8,305.4 1929.8,305.5 1926.8,305.6 1923.8,305.7 1920.8,305.9 1917.8,306.0 1914.8,306.1 1911.8,306.2 1908.8,306.3 1905.8,306.4 1902.8,306.5 1899.8,306.6 1896.8,306.7 1893.7,306.8 1890.7,306.9 1887.7,307.0 1884.7,307.1 1881.7,307.2 1878.7,307.3 1875.7,307.4 1872.7,307.5 1869.7,307.6 1866.7,307.7 1863.7,307.8 1860.7,307.9 1857.7,308.0 1854.7,308.0 1851.7,308.1 1848.7,308.2 1845.7,308.3 1842.7,308.4 1839.6,308.4 1836.6,308.5 1833.6,308.6 1830.6,308.7 1827.6,308.7 1824.6,308.8 1821.6,308.9 1818.6,308.9 1815.6,309.0 1812.6,309.1 1809.6,309.2 1806.6,309.2 1803.6,309.3 1800.6,309.3 1797.6,309.4 1794.6,309.5 1791.6,309.5 1788.5,309.6 1785.5,309.6 1782.5,309.7 1779.5,309.8 1776.5,309.8 1773.5,309.9 1770.5,309.9 1767.5,310.0 1764.5,310.0 1761.5,310.1 1758.5,310.1 1755.5,310.2 1752.5,310.2 1749.5,310.3 1746.5,310.3 1743.5,310.4 1740.5,310.4 1737.4,310.5 1734.4,310.5 1731.4,310.5 1728.4,310.6 1725.4,310.6 1722.4,310.7 1719.4,310.7 1716.4,310.8 1713.4,310.8 1710.4,310.8 1707.4,310.9 1704.4,310.9 1701.4,311.0 1698.4,311.0 1695.4,311.0 1692.4,311.1 1689.4,311.1 1686.4,311.1 1683.3,311.2 1680.3,311.2 1677.3,311.3 1674.3,311.3 1671.3,311.3 1668.3,311.4 1665.3,311.4 1662.3,311.4 1659.3,311.5 1656.3,311.5 1653.3,311.5 1650.3,311.6 1647.3,311.6 1644.3,311.6 1641.3,311.7 1638.3,311.7 1635.3,311.7 1632.3,311.8 1629.3,311.8 1626.2,311.9 1623.2,311.9 1620.2,311.9 1617.2,312.0 1614.2,312.0 1611.2,312.0 1608.2,312.1 1605.2,312.1 1602.2,312.1 1599.2,312.2 1596.2,312.2 1593.2,312.2 1590.2,312.3 1587.2,312.3 1584.2,312.3 1581.2,312.4 1578.2,312.4 1575.2,312.5 1572.2,312.5 1569.2,312.5 1566.2,312.6 1563.2,312.6 1560.2,312.7 1557.2,312.7 1554.1,312.7 1551.1,312.8 1548.1,312.8 1545.1,312.9 1542.1,312.9 1539.1,313.0 1536.1,313.0 1533.1,313.1 1530.1,313.2 1527.1,313.2 1524.1,313.3 1521.1,313.4 1518.1,313.4 1515.1,313.5 1512.1,313.6 1509.1,313.7 1506.1,313.8 1503.1,313.8 1500.1,313.9 1497.1,314.0 1494.1,314.2 1491.1,314.3 1488.1,314.4 1485.1,314.5 1482.1,314.6 1479.1,314.8 1476.1,314.9 1473.1,315.1 1470.1,315.2 1467.1,315.4 1464.1,315.6 1461.1,315.7 1458.1,315.9 1455.1,316.1 1452.1,316.3 1449.1,316.5 1446.1,316.7 1443.1,316.9 1440.1,317.2 1437.1,317.4 1434.1,317.7 1431.1,317.9 1428.1,318.2 1425.2,318.5 1422.2,318.8 1419.2,319.0 1416.2,319.4 1413.2,319.7 1410.2,320.0 1407.2,320.3 1404.2,320.7 1401.2,321.0 1398.2,321.4 1395.2,321.8 1392.2,322.2 1389.2,322.6 1386.3,323.0 1383.3,323.4 1380.3,323.8 1377.3,324.3 1374.3,324.8 1371.4,325.2 1368.4,325.7 1365.4,326.2 1362.4,326.7 1359.5,327.2 1356.5,327.7 1353.5,328.3 1350.6,328.8 1347.6,329.4 1344.6,330.0 1341.7,330.6 1338.7,331.2 1335.8,331.8 1332.8,332.4 1329.9,333.0 1327.0,333.7 1324.0,334.4 1321.1,335.0 1318.2,335.7 1315.2,336.4 1312.3,337.2 1309.4,337.9 1306.5,338.6 1303.6,339.4 1300.7,340.2 1297.8,341.0 1294.9,341.8 1292.0,342.6 1289.1,343.4 1286.2,344.2 1283.3,345.1 1280.4,346.0 1277.6,346.9 1274.7,347.8 1271.8,348.7 1269.0,349.6 1266.1,350.6 1263.3,351.5 1260.5,352.5 1257.6,353.5 1254.8,354.5 1252.0,355.5 1249.2,356.6 1246.4,357.6 1243.6,358.7 1240.8,359.8 1238.0,360.9 1235.2,362.0 1232.4,363.1 1229.6,364.3 1226.9,365.5 1224.1,366.7 1221.4,367.9 1218.6,369.1 1215.9,370.3 1213.2,371.6 1210.4,372.8 1207.7,374.1 1205.0,375.4 1202.3,376.7 1199.6,378.1 1196.9,379.4 1194.3,380.8 1191.6,382.2 1188.9,383.6 1186.3,385.0 1183.6,386.5 1181.0,387.9 1178.4,389.4 1175.8,390.9 1173.2,392.4 1170.6,393.9 1168.0,395.5 1165.4,397.0 1162.8,398.6 1160.3,400.2 1157.7,401.8 1155.2,403.5 1152.7,405.1 1150.1,406.8 1147.6,408.4 1145.1,410.1 1142.7,411.8 1140.2,413.6 1137.7,415.3 1135.3,417.1 1132.8,418.8 1130.4,420.6 1128.0,422.4 1125.6,424.2 1123.2,426.1 1120.9,427.9 1118.5,429.8 1116.1,431.7 1113.8,433.6 1111.5,435.5 1109.2,437.4 1106.9,439.4 1104.6,441.3 1102.3,443.3 1100.1,445.3 1097.9,447.3 1095.6,449.3 1093.4,451.4 1091.2,453.4 1089.1,455.5 1086.9,457.6 1084.7,459.7 1082.6,461.8 1080.5,463.9 1078.4,466.0 1076.3,468.2 1074.2,470.4 1072.2,472.6 1070.2,474.7 1068.1,477.0 1066.1,479.2 1064.2,481.4 1062.2,483.7 1060.2,485.9 1058.3,488.2 1056.4,490.5 1054.5,492.8 1052.6,495.2 1050.8,497.5 1048.9,499.8 1047.1,502.2 1045.3,504.6 1043.5,507.0 1041.7,509.4 1040.0,511.8 1038.3,514.2 1036.6,516.7 1034.9,519.1 1033.2,521.6 1031.5,524.1 1029.9,526.6 1028.3,529.1 1026.7,531.6 1025.1,534.1 1023.5,536.7 1021.9,539.2 1020.4,541.8 1018.9,544.3 1017.4,546.9 1015.9,549.5 1014.4,552.1 1013.0,554.7 1011.5,557.4 1010.1,560.0 1008.7,562.6 1007.3,565.3 1005.9,567.9 1004.6,570.6 1003.2,573.3 1001.9,576.0 1000.6,578.7 999.3,581.4 998.0,584.1 996.7,586.8 995.4,589.5 994.2,592.3 993.0,595.0 991.8,597.8 990.5,600.5 989.4,603.3 988.2,606.1 987.0,608.8 985.9,611.6 984.7,614.4 983.6,617.2 982.5,620.0 981.4,622.8 980.3,625.6 979.2,628.5 978.2,631.3 977.1,634.1 976.1,636.9 975.0,639.8 974.0,642.6 973.0,645.5 972.0,648.3 971.0,651.2 970.1,654.0 969.1,656.9 968.2,659.8 967.2,662.6 966.3,665.5 965.4,668.4 964.5,671.3 963.6,674.1 962.7,677.0 961.8,679.9 960.9,682.8 960.1,685.7 959.2,688.6 958.4,691.5 957.5,694.4 956.7,697.3 955.9,700.2 955.1,703.1 954.3,706.0 953.5,708.9 952.8,711.8 952.0,714.7 951.2,717.6 950.5,720.5 949.7,723.5 949.0,726.4 948.3,729.3 947.6,732.2 946.8,735.2 946.1,738.1 945.4,741.0 944.8,743.9 944.1,746.9 943.4,749.8 942.7,752.8 942.1,755.7 941.4,758.6 940.8,761.6 940.2,764.5 939.5,767.5 938.9,770.4 938.3,773.3 937.7,776.3 937.1,779.2 936.5,782.2 935.9,785.1 935.3,788.1 934.8,791.1 934.2,794.0 933.6,797.0 933.1,799.9 932.5,802.9 932.0,805.8 931.4,808.8 930.9,811.8 930.4,814.7 929.9,817.7 929.3,820.6 928.8,823.6 928.3,826.6 927.8,829.5 927.3,832.5 926.8,835.5 926.3,838.4 925.9,841.4 925.4,844.4 924.9,847.3 924.4,850.3 924.0,853.3 923.5,856.2 923.1,859.2 922.6,862.2 922.2,865.1 921.7,868.1 921.3,871.1 920.9,874.1 920.4,877.0 920.0,880.0 919.6,883.0 919.2,886.0 918.8,888.9 918.4,891.9 918.0,894.9 917.6,897.9 917.2,900.8 916.8,903.8 916.4,906.8 916.0,909.8 915.7,912.7 915.3,915.7 914.9,918.7 914.6,921.7 914.2,924.7 913.9,927.6 913.5,930.6 913.2,933.6 912.8,936.6 912.5,939.6 912.1,942.6 911.8,945.5 911.5,948.5 911.2,951.5 910.8,954.5 910.5,957.5 910.2,960.5 909.9,963.4 909.6,966.4 909.3,969.4 909.0,972.4 908.7,975.4 908.4,978.4 908.1,981.4 907.8,984.3 907.6,987.3 907.3,990.3 907.0,993.3 906.7,996.3 906.5,999.3 906.2,1002.3 905.9,1005.3 905.7,1008.3 905.4,1011.3 905.2,1014.3 904.9,1017.2 904.7,1020.2 904.4,1023.2 904.2,1026.2 904.0,1029.2 903.7,1032.2 903.5,1035.2 903.3,1038.2 903.0,1041.2 902.8,1044.2 902.6,1047.2 902.4,1050.2 902.2,1053.2 901.9,1056.2 901.7,1059.2 901.5,1062.2 901.3,1065.2 901.1,1068.2 900.9,1071.1 900.7,1074.1 900.5,1077.1 900.3,1080.1 900.1,1083.1 899.9,1086.1 899.8,1089.1 899.6,1092.1 899.4,1095.1 899.2,1098.1 899.0,1101.1 898.9,1104.1 898.7,1107.1 898.5,1110.1 898.3,1113.1 898.2,1116.1 898.0,1119.1 897.8,1122.1 897.7,1125.1 897.5,1128.1 897.4,1131.1 897.2,1134.1 897.1,1137.1 896.9,1140.1 896.7,1143.1 896.6,1146.2 896.5,1149.2 896.3,1152.2 896.2,1155.2 896.0,1158.2 895.9,1161.2 895.7,1164.2 895.6,1167.2 895.5,1170.2 895.3,1173.2 895.2,1176.2 895.1,1179.2 894.9,1182.2 894.8,1185.2 894.7,1188.2 894.5,1191.2 894.4,1194.2 894.3,1197.2 894.2,1200.2 894.0,1203.2 893.9,1206.2 893.8,1209.2 893.7,1212.2 893.6,1215.2 893.4,1218.3 893.3,1221.3 893.2,1224.3 893.1,1227.3 893.0,1230.3 892.9,1233.3 892.7,1236.3 892.6,1239.3 892.5,1242.3 892.4,1245.3 892.3,1248.3 892.2,1251.3 892.1,1254.3 892.0,1257.3 891.9,1260.3 891.8,1263.3 891.6,1266.3 891.5,1269.4 891.4,1272.4 891.3,1275.4 891.2,1278.4 891.1,1281.4 891.0,1284.4 890.9,1287.4 890.8,1290.4 890.7,1293.4 890.6,1296.4 890.5,1299.4 890.4,1302.4 890.3,1305.4 890.2,1308.4 890.1,1311.4 890.0,1314.4 889.9,1317.5 889.7,1320.5 889.6,1323.5 889.5,1326.5 889.4,1329.5 889.3,1332.5 889.2,1335.5 889.1,1338.5 889.0,1341.5L891.4,1339.4 893.7,1337.3 896.0,1335.3 898.3,1333.2 900.5,1331.1 902.6,1329.0 904.7,1326.9 906.8,1324.8 908.9,1322.7 910.9,1320.6 912.9,1318.5 914.9,1316.3 917.0,1314.2 919.0,1312.1 921.0,1309.9 923.0,1307.8 925.0,1305.6 927.1,1303.5 929.2,1301.3 931.3,1299.1 933.4,1297.0 935.6,1294.8 937.8,1292.6 940.1,1290.4 942.4,1288.2 944.8,1285.9 947.2,1283.7 949.7,1281.6 952.2,1279.4 954.8,1277.3 957.4,1275.3 960.0,1273.4 962.7,1271.5 965.3,1269.8 968.0,1268.2 970.7,1266.8 973.4,1265.4 976.1,1264.3 978.8,1263.3 981.5,1262.6 984.2,1262.0 986.8,1261.7 989.5,1261.6 992.1,1261.7 994.7,1262.1 997.2,1262.8 999.7,1263.7 1002.2,1264.8 1004.6,1266.1 1007.0,1267.7 1009.3,1269.4 1011.6,1271.2 1013.8,1273.3 1015.9,1275.4 1018.0,1277.7 1020.0,1280.1 1021.9,1282.6 1023.7,1285.2 1025.4,1287.8 1027.1,1290.5 1028.6,1293.3 1030.0,1296.1 1031.4,1298.9 1032.6,1301.7 1033.8,1304.6 1034.9,1307.4 1035.9,1310.3 1036.9,1313.2 1037.7,1316.2 1038.6,1319.1 1039.3,1322.1 1040.0,1325.1 1040.7,1328.0 1041.3,1331.0 1041.9,1334.0 1042.5,1337.0 1043.0,1340.0 1043.5,1343.1 1044.1,1346.1 1044.6,1349.1 1045.1,1352.1 1045.5,1355.1 1046.0,1358.1 1046.5,1361.1 1047.0,1364.1 1047.4,1367.2 1047.9,1370.2 1048.3,1373.2 1048.8,1376.2 1049.2,1379.2 1049.6,1382.2 1050.0,1385.2 1050.5,1388.2 1050.9,1391.3 1051.3,1394.3 1051.7,1397.3 1052.1,1400.3 1052.4,1403.3 1052.8,1406.3 1053.2,1409.3 1053.6,1412.3 1053.9,1415.4 1054.3,1418.4 1054.7,1421.4 1055.0,1424.4 1055.4,1427.4 1055.7,1430.4 1056.0,1433.4 1056.4,1436.4 1056.7,1439.4 1057.0,1442.5 1057.4,1445.5 1057.7,1448.5 1058.0,1451.5 1058.3,1454.5 1058.6,1457.5 1058.9,1460.5 1059.2,1463.5 1059.5,1466.6 1059.8,1469.6 1060.1,1472.6 1060.4,1475.6 1060.7,1478.6 1061.0,1481.6 1061.3,1484.6 1061.6,1487.6 1061.9,1490.7 1062.2,1493.7 1062.5,1496.7 1062.7,1499.7 1063.0,1502.7 1063.3,1505.7 1063.6,1508.7 1063.9,1511.8 1064.1,1514.8 1064.4,1517.8 1064.7,1520.8 1065.0,1523.8 1065.2,1526.8 1065.5,1529.8 1065.8,1532.9 1066.1,1535.9 1066.3,1538.9 1066.6,1541.9 1066.9,1544.9 1067.2,1547.9 1067.5,1551.0 1067.7,1554.0 1068.0,1557.0 1068.3,1560.0 1068.6,1563.0 1068.9,1566.0 1069.2,1569.1 1069.5,1572.1 1069.8,1575.1 1070.1,1578.1 1070.4,1581.1 1070.7,1584.1 1071.0,1587.2 1071.3,1590.2 1071.6,1593.2 1071.9,1596.2 1072.2,1599.2 1072.5,1602.3 1072.8,1605.3 1073.2,1608.3 1073.5,1611.3 1073.8,1614.4 1074.2,1617.4 1074.5,1620.4 1074.8,1623.4 1075.2,1626.5 1075.5,1629.5 1075.9,1632.5L1076.4,1629.5 1076.8,1626.6 1077.3,1623.6 1077.7,1620.6 1078.1,1617.7 1078.5,1614.7 1078.9,1611.7 1079.3,1608.7 1079.6,1605.8 1080.0,1602.8 1080.3,1599.8 1080.7,1596.8 1081.0,1593.8 1081.3,1590.9 1081.6,1587.9 1081.9,1584.9 1082.1,1581.9 1082.4,1578.9 1082.6,1575.9 1082.9,1573.0 1083.1,1570.0 1083.3,1567.0 1083.5,1564.0 1083.7,1561.0 1083.9,1558.0 1084.1,1555.0 1084.3,1552.0 1084.5,1549.0 1084.6,1546.0 1084.8,1543.0 1084.9,1540.0 1085.1,1537.0 1085.2,1534.0 1085.4,1531.0 1085.5,1528.0 1085.6,1525.0 1085.7,1522.0 1085.8,1519.0 1085.9,1516.0 1086.0,1513.0 1086.1,1510.0 1086.2,1507.0 1086.3,1504.0 1086.4,1501.0 1086.5,1498.0 1086.6,1495.0 1086.7,1492.0 1086.7,1489.0 1086.8,1486.0 1086.9,1483.0 1086.9,1480.0 1087.0,1477.0 1087.1,1473.9 1087.1,1470.9 1087.2,1467.9 1087.3,1464.9 1087.3,1461.9 1087.4,1458.9 1087.4,1455.9 1087.5,1452.9 1087.5,1449.9 1087.6,1446.9 1087.6,1443.8 1087.7,1440.8 1087.7,1437.8 1087.8,1434.8 1087.8,1431.8 1087.9,1428.8 1087.9,1425.8 1088.0,1422.8 1088.0,1419.7 1088.0,1416.7 1088.1,1413.7 1088.1,1410.7 1088.2,1407.7 1088.2,1404.7 1088.2,1401.7 1088.3,1398.7 1088.3,1395.6 1088.3,1392.6 1088.4,1389.6 1088.4,1386.6 1088.5,1383.6 1088.5,1380.6 1088.5,1377.6 1088.6,1374.5 1088.6,1371.5 1088.6,1368.5 1088.7,1365.5 1088.7,1362.5 1088.8,1359.5 1088.8,1356.5 1088.8,1353.5 1088.9,1350.5 1088.9,1347.4 1089.0,1344.4 1089.0,1341.4 1089.1,1338.4 1089.1,1335.4 1089.2,1332.4 1089.2,1329.4 1089.2,1326.4 1089.3,1323.4 1089.4,1320.4 1089.4,1317.4 1089.5,1314.4 1089.5,1311.4 1089.6,1308.3 1089.6,1305.3 1089.7,1302.3 1089.8,1299.3 1089.8,1296.3 1089.9,1293.3 1090.0,1290.3 1090.0,1287.3 1090.1,1284.3 1090.2,1281.3 1090.2,1278.3 1090.3,1275.3 1090.4,1272.3 1090.5,1269.3 1090.6,1266.3 1090.6,1263.3 1090.7,1260.3 1090.8,1257.3 1090.9,1254.3 1091.0,1251.3 1091.1,1248.3 1091.2,1245.3 1091.2,1242.3 1091.3,1239.3 1091.4,1236.3 1091.5,1233.3 1091.6,1230.3 1091.7,1227.3 1091.8,1224.3 1091.9,1221.3 1092.0,1218.3 1092.1,1215.3 1092.2,1212.3 1092.3,1209.3 1092.4,1206.3 1092.6,1203.3 1092.7,1200.4 1092.8,1197.4 1092.9,1194.4 1093.0,1191.4 1093.1,1188.4 1093.2,1185.4 1093.4,1182.4 1093.5,1179.4 1093.6,1176.4 1093.7,1173.4 1093.9,1170.4 1094.0,1167.4 1094.1,1164.4 1094.2,1161.4 1094.4,1158.4 1094.5,1155.4 1094.6,1152.4 1094.8,1149.4 1094.9,1146.4 1095.0,1143.4 1095.2,1140.4 1095.3,1137.4 1095.5,1134.4 1095.6,1131.4 1095.8,1128.4 1095.9,1125.4 1096.1,1122.5 1096.2,1119.5 1096.4,1116.5 1096.5,1113.5 1096.7,1110.5 1096.8,1107.5 1097.0,1104.5 1097.1,1101.5 1097.3,1098.5 1097.5,1095.5 1097.6,1092.5 1097.8,1089.5 1098.0,1086.5 1098.1,1083.5 1098.3,1080.5 1098.5,1077.5 1098.6,1074.5 1098.8,1071.5 1099.0,1068.5 1099.2,1065.5 1099.3,1062.5 1099.5,1059.5 1099.7,1056.5 1099.9,1053.5 1100.1,1050.5 1100.3,1047.5 1100.4,1044.5 1100.6,1041.5 1100.8,1038.5 1101.0,1035.5 1101.2,1032.5 1101.4,1029.5 1101.6,1026.4 1101.8,1023.4 1102.0,1020.4 1102.2,1017.4 1102.4,1014.4 1102.6,1011.4 1102.8,1008.4 1103.0,1005.4 1103.2,1002.4 1103.4,999.4 1103.6,996.4 1103.8,993.4 1104.1,990.4 1104.3,987.3 1104.5,984.3 1104.7,981.3 1104.9,978.3 1105.1,975.3 1105.4,972.3 1105.6,969.3 1105.8,966.3 1106.0,963.2 1106.3,960.2 1106.5,957.2 1106.7,954.2 1107.0,951.2 1107.2,948.2 1107.5,945.2 1107.7,942.1 1108.0,939.1 1108.2,936.1 1108.5,933.1 1108.8,930.1 1109.0,927.1 1109.3,924.1 1109.6,921.1 1109.9,918.1 1110.2,915.1 1110.5,912.0 1110.8,909.0 1111.1,906.0 1111.4,903.0 1111.8,900.0 1112.1,897.0 1112.5,894.0 1112.8,891.0 1113.2,888.1 1113.5,885.1 1113.9,882.1 1114.3,879.1 1114.7,876.1 1115.1,873.1 1115.5,870.1 1116.0,867.2 1116.4,864.2 1116.9,861.2 1117.3,858.3 1117.8,855.3 1118.3,852.3 1118.8,849.4 1119.3,846.4 1119.8,843.5 1120.3,840.5 1120.9,837.6 1121.4,834.6 1122.0,831.7 1122.6,828.7 1123.2,825.8 1123.8,822.9 1124.4,820.0 1125.0,817.0 1125.7,814.1 1126.4,811.2 1127.0,808.3 1127.7,805.4 1128.4,802.5 1129.2,799.6 1129.9,796.7 1130.7,793.8 1131.5,791.0 1132.2,788.1 1133.1,785.2 1133.9,782.3 1134.7,779.5 1135.6,776.6 1136.5,773.8 1137.3,770.9 1138.3,768.1 1139.2,765.2 1140.1,762.4 1141.1,759.6 1142.0,756.8 1143.0,754.0 1144.0,751.1 1145.0,748.3 1146.1,745.5 1147.1,742.7 1148.2,740.0 1149.3,737.2 1150.4,734.4 1151.5,731.6 1152.6,728.9 1153.7,726.1 1154.9,723.3 1156.1,720.6 1157.3,717.8 1158.5,715.1 1159.7,712.4 1160.9,709.6 1162.2,706.9 1163.4,704.2 1164.7,701.5 1166.0,698.8 1167.3,696.1 1168.7,693.4 1170.0,690.7 1171.4,688.0 1172.7,685.4 1174.1,682.7 1175.5,680.0 1177.0,677.4 1178.4,674.7 1179.9,672.1 1181.3,669.5 1182.8,666.8 1184.3,664.2 1185.8,661.6 1187.3,659.0 1188.9,656.4 1190.4,653.8 1192.0,651.2 1193.6,648.6 1195.2,646.1 1196.8,643.5 1198.5,640.9 1200.1,638.4 1201.8,635.9 1203.5,633.4 1205.2,630.8 1206.9,628.3 1208.6,625.9 1210.3,623.4 1212.1,620.9 1213.9,618.5 1215.7,616.0 1217.5,613.6 1219.3,611.2 1221.1,608.8 1223.0,606.4 1224.9,604.0 1226.7,601.6 1228.6,599.3 1230.6,596.9 1232.5,594.6 1234.5,592.3 1236.4,590.0 1238.4,587.8 1240.4,585.5 1242.4,583.3 1244.4,581.0 1246.5,578.8 1248.6,576.6 1250.6,574.5 1252.7,572.3 1254.8,570.2 1257.0,568.1 1259.1,566.0 1261.3,563.9 1263.5,561.8 1265.6,559.8 1267.9,557.8 1270.1,555.8 1272.3,553.8 1274.6,551.8 1276.9,549.9 1279.2,548.0 1281.5,546.1 1283.8,544.2 1286.1,542.3 1288.5,540.5 1290.9,538.7 1293.3,536.9 1295.7,535.2 1298.1,533.4 1300.6,531.7 1303.0,530.0 1305.5,528.4 1308.0,526.7 1310.5,525.1 1313.0,523.5 1315.6,522.0 1318.2,520.4 1320.7,518.9 1323.3,517.4 1326.0,516.0 1328.6,514.6 1331.2,513.2 1333.9,511.8 1336.6,510.4 1339.3,509.1 1342.0,507.8 1344.8,506.6 1347.5,505.3 1350.3,504.1 1353.1,503.0 1355.9,501.8 1358.7,500.8 1361.5,499.7 1364.4,498.7 1367.3,497.8 1370.1,497.0 1373.0,496.2 1375.9,495.5 1378.8,494.9 1381.7,494.4 1384.7,494.0 1387.6,493.7 1390.5,493.5 1393.4,493.5 1396.4,493.6 1399.3,493.8 1402.3,494.2 1405.2,494.7 1408.1,495.3 1411.1,496.1 1414.0,497.1 1416.9,498.1 1419.8,499.2 1422.6,500.5 1425.4,501.8 1428.2,503.2 1431.0,504.7 1433.7,506.2 1436.3,507.8 1439.0,509.5 1441.5,511.1 1444.0,512.8 1446.4,514.5 1448.8,516.3 1451.1,518.0 1453.4,519.8 1455.6,521.6 1457.8,523.5 1460.0,525.4 1462.1,527.3 1464.1,529.2 1466.2,531.2 1468.2,533.3 1470.2,535.4 1472.2,537.5 1474.2,539.6 1476.1,541.9 1478.0,544.1 1480.0,546.5 1481.9,548.8 1483.8,551.3 1485.8,553.7 1487.7,556.3 1489.7,558.9 1491.6,561.5 1493.6,564.1 1495.6,566.8 1497.6,569.4 1499.6,572.1 1501.6,574.7 1503.7,577.3 1505.8,579.8 1507.9,582.3 1510.0,584.7 1512.2,587.0 1514.4,589.2 1516.7,591.3 1518.9,593.3 1521.3,595.1 1523.6,596.8 1526.0,598.4 1528.5,599.7 1531.0,600.9 1533.5,601.9 1536.1,602.7 1538.7,603.4 1541.3,603.8 1544.0,604.0 1546.6,604.0 1549.2,603.8 1551.8,603.4 1554.4,602.7 1556.9,601.9 1559.3,600.8 1561.7,599.6 1564.0,598.1 1566.2,596.3 1568.3,594.4 1570.4,592.3 1572.3,590.0 1574.2,587.6 1576.1,585.1 1577.8,582.5 1579.6,579.9 1581.3,577.3 1582.9,574.6 1584.5,572.0 1586.1,569.3 1587.7,566.7 1589.2,564.0 1590.7,561.4 1592.2,558.7 1593.6,556.0 1595.0,553.3 1596.4,550.6 1597.8,547.9 1599.1,545.2 1600.4,542.5 1601.7,539.7 1602.9,537.0 1604.2,534.3 1605.4,531.5 1606.6,528.7 1607.7,526.0 1608.9,523.2 1610.0,520.4 1611.2,517.6 1612.3,514.8 1613.3,511.9 1614.4,509.1 1615.5,506.2 1616.5,503.4 1617.6,500.5 1618.6,497.6 1619.6,494.8 1620.7,491.9 1621.7,489.0 1622.8,486.2 1623.8,483.3 1624.9,480.5 1625.9,477.6 1627.0,474.8 1628.1,471.9 1629.2,469.1 1630.3,466.3 1631.5,463.5 1632.7,460.7 1633.9,457.9 1635.1,455.2 1636.3,452.5 1637.6,449.8 1638.9,447.1 1640.3,444.4 1641.7,441.8 1643.1,439.2 1644.5,436.6 1646.1,434.0 1647.6,431.5 1649.2,429.0 1650.9,426.6 1652.6,424.2 1654.3,421.8 1656.1,419.4 1658.0,417.1 1659.9,414.9 1661.9,412.7 1663.9,410.5 1666.0,408.3 1668.1,406.2 1670.3,404.2 1672.5,402.2 1674.8,400.2 1677.1,398.3 1679.4,396.5 1681.8,394.6 1684.3,392.9 1686.7,391.2 1689.2,389.5 1691.7,387.9 1694.3,386.3 1696.9,384.8 1699.5,383.4 1702.2,382.0 1704.9,380.6 1707.6,379.3 1710.3,378.1 1713.1,376.9 1715.8,375.8 1718.6,374.8 1721.4,373.8 1724.3,372.8 1727.1,372.0 1730.0,371.2 1732.9,370.4 1735.8,369.7 1738.7,369.0 1741.6,368.4 1744.5,367.9 1747.5,367.4 1750.4,366.9 1753.4,366.4 1756.4,366.0 1759.4,365.7 1762.3,365.3 1765.3,365.0 1768.4,364.7 1771.4,364.5 1774.4,364.2 1777.4,364.0 1780.5,363.8 1783.5,363.7 1786.5,363.5 1789.6,363.3 1792.6,363.2 1795.7,363.0 1798.7,362.9 1801.8,362.7 1804.8,362.6 1807.9,362.4 1810.9,362.3 1814.0,362.1 1817.0,361.9 1820.0,361.8 1823.1,361.6 1826.1,361.3 1829.1,361.1 1832.1,360.9 1835.1,360.6 1838.2,360.4 1841.2,360.1 1844.2,359.8 1847.2,359.5 1850.2,359.3 1853.2,358.9 1856.2,358.6 1859.2,358.3 1862.2,358.0 1865.2,357.7 1868.2,357.3 1871.1,357.0 1874.1,356.6 1877.1,356.3 1880.1,355.9 1883.1,355.5 1886.1,355.2 1889.0,354.8 1892.0,354.4 1895.0,354.1 1898.0,353.7 1900.9,353.3 1903.9,352.9 1906.9,352.5 1909.9,352.2 1912.8,351.8 1915.8,351.4 1918.8,351.0 1921.7,350.7 1924.7,350.3 1927.7,349.9 1930.7,349.5 1933.6,349.2 1936.6,348.8 1939.6,348.5 1942.6,348.1 1945.5,347.8 1948.5,347.4 1951.5,347.1 1954.5,346.8 1957.5,346.4 1960.4,346.1 1963.4,345.8 1966.4,345.5 1969.4,345.2 1972.4,344.8 1975.3,344.5 1978.3,344.2 1981.3,343.9 1984.3,343.6 1987.3,343.3 1990.3,343.1 1993.3,342.8 1996.2,342.5 1999.2,342.2 2002.2,341.9 2005.2,341.7 2008.2,341.4 2011.2,341.1 2014.2,340.9 2017.2,340.6 2020.2,340.4 2023.2,340.1 2026.1,339.9 2029.1,339.6 2032.1,339.4 2035.1,339.1 2038.1,338.9 2041.1,338.7 2044.1,338.4 2047.1,338.2 2050.1,338.0 2053.1,337.8 2056.1,337.5 2059.1,337.3 2062.1,337.1 2065.1,336.9 2068.1,336.7 2071.1,336.5 2074.1,336.3 2077.1,336.1 2080.1,335.9 2083.1,335.7 2086.1,335.5 2089.1,335.3 2092.1,335.1 2095.1,334.9 2098.1,334.7 2101.1,334.6 2104.1,334.4 2107.1,334.2 2110.1,334.0 2113.1,333.9 2116.1,333.7 2119.1,333.5 2122.1,333.3 2125.1,333.2 2128.1,333.0 2131.1,332.9 2134.1,332.7 2137.1,332.5 2140.1,332.4 2143.1,332.2 2146.1,332.1 2149.1,331.9 2152.1,331.8 2155.1,331.6 2158.2,331.5 2161.2,331.3 2164.2,331.2 2167.2,331.0 2170.2,330.9 2173.2,330.7 2176.2,330.6 2179.2,330.5 2182.2,330.3 2185.2,330.2 2188.2,330.1 2191.2,329.9 2194.2,329.8 2197.2,329.7 2200.2,329.5 2203.3,329.4 2206.3,329.3 2209.3,329.1 2212.3,329.0 2215.3,328.9 2218.3,328.8 2221.3,328.6 2224.3,328.5 2227.3,328.4 2230.3,328.3 2233.3,328.1 2236.3,328.0 2239.3,327.9 2242.4,327.8 2245.4,327.7 2248.4,327.5 2251.4,327.4 2254.4,327.3 2257.4,327.2 2260.4,327.0 2263.4,326.9 2266.4,326.8 2269.4,326.7 2272.4,326.6 2275.4,326.4 2278.4,326.3 2281.4,326.2 2284.5,326.1 2287.5,326.0 2290.5,325.8 2293.5,325.7 2296.5,325.6 2299.5,325.5 2302.5,325.4 2305.5,325.2 2308.5,325.1 2311.5,325.0 2314.5,324.9 2317.5,324.8 2320.5,324.6 2323.5,324.5 2326.5,324.4 2329.5,324.3 2332.5,324.1 2335.5,324.0 2338.5,323.9 2341.5,323.7 2344.5,323.6 2347.5,323.5 2350.5,323.3 2353.5,323.2 2356.5,323.1 2359.5,322.9 2362.5,322.8 2365.5,322.7 2368.5,322.5 2371.5,322.4 2374.5,322.3 2377.5,322.1 2380.5,322.0 2383.5,321.8 2386.5,321.7 2389.5,321.5 2392.5,321.4 2395.5,321.2 2398.5,321.1 2401.5,320.9 2404.5,320.8 2407.5,320.6 2410.5,320.5 2413.5,320.3" fill="none" stroke="#00FF00" stroke-width="6" stroke-linejoin="round"/>
<g stroke="#000" stroke-width="5" fill="none">
<path d="M2413.5,1667.0 H363 M395,38.5 V1667.0"/>
<path d="M363,41.0 H395"/>
<path d="M363,312.0 H395"/>
<path d="M363,583.0 H395"/>
<path d="M363,854.0 H395"/>
<path d="M363,1125.0 H395"/>
<path d="M363,1396.0 H395"/>
<path d="M363,1667.0 H395"/>
<path d="M379,176.5 H395"/>
<path d="M379,447.5 H395"/>
<path d="M379,718.5 H395"/>
<path d="M379,989.5 H395"/>
<path d="M379,1260.5 H395"/>
<path d="M379,1531.5 H395"/>
<path d="M545.0,1667.0 V1697.5"/>
<path d="M918.7,1667.0 V1697.5"/>
<path d="M1292.4,1667.0 V1697.5"/>
<path d="M1666.1,1667.0 V1697.5"/>
<path d="M2039.8,1667.0 V1697.5"/>
<path d="M2413.5,1667.0 V1697.5"/>
<path d="M731.9,1667.0 V1682.5"/>
<path d="M1105.5,1667.0 V1682.5"/>
<path d="M1479.2,1667.0 V1682.5"/>
<path d="M1853.0,1667.0 V1682.5"/>
<path d="M2226.7,1667.0 V1682.5"/>
</g>
<g font-family="Liberation Sans, Arial, sans-serif" font-size="70" fill="#000">
<text x="343" y="60.5" text-anchor="end">0.05</text>
<text x="343" y="331.5" text-anchor="end">0.00</text>
<text x="343" y="602.5" text-anchor="end">–0.05</text>
<text x="343" y="873.5" text-anchor="end">–0.10</text>
<text x="343" y="1144.5" text-anchor="end">–0.15</text>
<text x="343" y="1415.5" text-anchor="end">–0.20</text>
<text x="343" y="1686.5" text-anchor="end">–0.25</text>
<text x="545.0" y="1773.5" text-anchor="middle">2.5</text>
<text x="918.7" y="1773.5" text-anchor="middle">2.0</text>
<text x="1292.4" y="1773.5" text-anchor="middle">1.5</text>
<text x="1666.1" y="1773.5" text-anchor="middle">1.0</text>
<text x="2039.8" y="1773.5" text-anchor="middle">0.5</text>
<text x="2413.5" y="1773.5" text-anchor="middle">0.0</text>
</g>
<text x="1406" y="1915" font-family="Liberation Sans, Arial, sans-serif" font-size="85" text-anchor="middle">Potential, V (vs. Fc/Fc<tspan dy="-36" font-size="56">+</tspan><tspan dy="36">)</tspan></text>
<text transform="translate(73.4,814) rotate(-90)" font-family="Liberation Sans, Arial, sans-serif" font-size="85" text-anchor="middle">I, mA</text>
<rect x="1468.5" y="727" width="930.5" height="723" fill="#fff" stroke="#333" stroke-width="2.5"/>
<g font-family="Liberation Sans, Arial, sans-serif" font-size="85" fill="#000">
<path d="M1481,788.7 H1668" stroke="#E366FF" stroke-width="6" stroke-linecap="round"/>
<text x="1690" y="818.7"><tspan font-weight="bold">2</tspan></text>
<path d="M1481,894 H1668" stroke="#FF0000" stroke-width="6" stroke-linecap="round"/>
<text x="1690" y="924.0"><tspan font-weight="bold">2</tspan> + Cu(OAc)<tspan dy="23" font-size="56">2</tspan></text>
<path d="M1481,1019.6 H1668" stroke="#000000" stroke-width="6" stroke-linecap="round"/>
<text x="1690" y="1049.6"><tspan font-weight="bold">1</tspan> + <tspan font-weight="bold">2</tspan> + Cu(OAc)<tspan dy="23" font-size="56">2</tspan></text>
<path d="M1481,1143.6 H1668" stroke="#00FFFF" stroke-width="6" stroke-linecap="round"/>
<text x="1690" y="1173.6">Cu(OAc)<tspan dy="23" font-size="56">2</tspan></text>
<path d="M1481,1269 H1668" stroke="#FF8000" stroke-width="6" stroke-linecap="round"/>
<text x="1690" y="1299.0"><tspan font-weight="bold">1</tspan></text>
<path d="M1481,1375 H1668" stroke="#00FF00" stroke-width="6" stroke-linecap="round"/>
<text x="1690" y="1405.0">Cu(OAc)<tspan dy="23" font-size="56">2</tspan><tspan dy="-23"> + </tspan><tspan font-weight="bold">1</tspan></text>
</g>
</svg></body></html>
